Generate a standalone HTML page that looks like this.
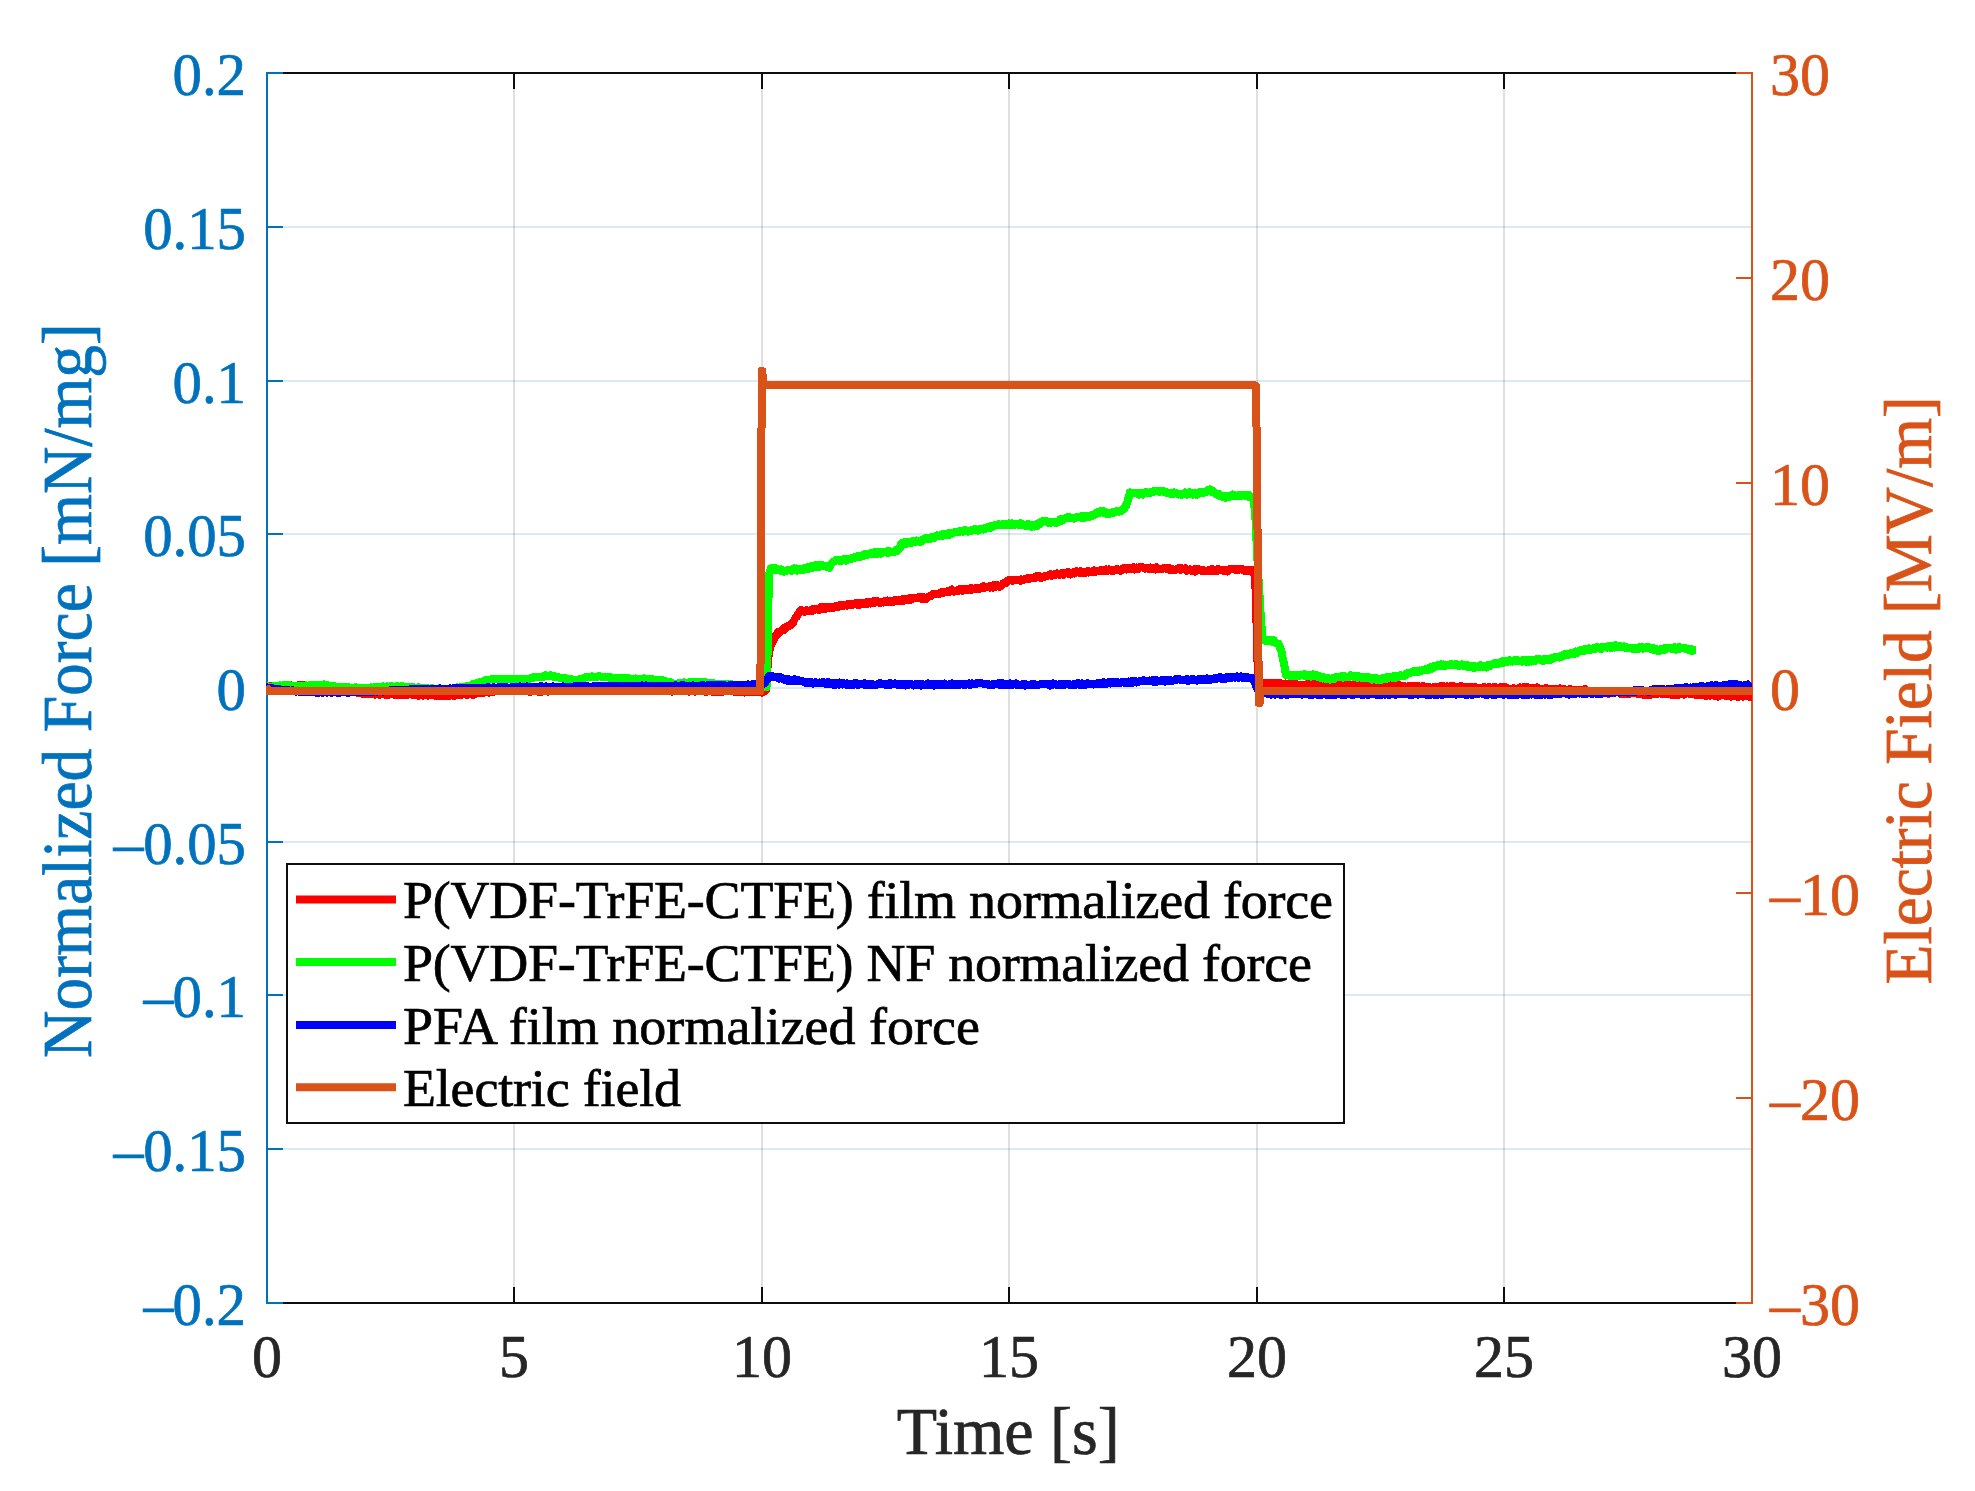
<!DOCTYPE html>
<html lang="en">
<head>
<meta charset="utf-8">
<title>Normalized force and electric field versus time</title>
<style>
html,body{margin:0;padding:0;background:#ffffff;}
body{width:1975px;height:1491px;overflow:hidden;font-family:"Liberation Serif","Times New Roman",serif;}
svg{display:block;}
</style>
</head>
<body>
<svg width="1975" height="1491" viewBox="0 0 1975 1491" font-family="'Liberation Serif', 'Times New Roman', serif">
<rect x="0" y="0" width="1975" height="1491" fill="#ffffff"/>
<g stroke="#262626" stroke-opacity="0.15" stroke-width="2" fill="none">
<line x1="514.0" y1="73" x2="514.0" y2="1303"/>
<line x1="762.0" y1="73" x2="762.0" y2="1303"/>
<line x1="1009.0" y1="73" x2="1009.0" y2="1303"/>
<line x1="1257.0" y1="73" x2="1257.0" y2="1303"/>
<line x1="1504.0" y1="73" x2="1504.0" y2="1303"/>
</g>
<g stroke="#0072BD" stroke-opacity="0.15" stroke-width="2" fill="none">
<line x1="267" y1="227.00" x2="1752" y2="227.00"/>
<line x1="267" y1="381.00" x2="1752" y2="381.00"/>
<line x1="267" y1="534.00" x2="1752" y2="534.00"/>
<line x1="267" y1="688.00" x2="1752" y2="688.00"/>
<line x1="267" y1="842.00" x2="1752" y2="842.00"/>
<line x1="267" y1="995.00" x2="1752" y2="995.00"/>
<line x1="267" y1="1149.00" x2="1752" y2="1149.00"/>
</g>
<g stroke="#0d0d0d" stroke-width="2" fill="none">
<line x1="267" y1="73" x2="1752" y2="73"/>
<line x1="267" y1="1303" x2="1752" y2="1303"/>
<line x1="514.0" y1="73" x2="514.0" y2="89"/>
<line x1="514.0" y1="1303" x2="514.0" y2="1287"/>
<line x1="762.0" y1="73" x2="762.0" y2="89"/>
<line x1="762.0" y1="1303" x2="762.0" y2="1287"/>
<line x1="1009.0" y1="73" x2="1009.0" y2="89"/>
<line x1="1009.0" y1="1303" x2="1009.0" y2="1287"/>
<line x1="1257.0" y1="73" x2="1257.0" y2="89"/>
<line x1="1257.0" y1="1303" x2="1257.0" y2="1287"/>
<line x1="1504.0" y1="73" x2="1504.0" y2="89"/>
<line x1="1504.0" y1="1303" x2="1504.0" y2="1287"/>
</g>
<g stroke="#0072BD" stroke-width="2" fill="none">
<line x1="267" y1="72" x2="267" y2="1304"/>
<line x1="266" y1="73.00" x2="283" y2="73.00"/>
<line x1="266" y1="227.00" x2="283" y2="227.00"/>
<line x1="266" y1="381.00" x2="283" y2="381.00"/>
<line x1="266" y1="534.00" x2="283" y2="534.00"/>
<line x1="266" y1="688.00" x2="283" y2="688.00"/>
<line x1="266" y1="842.00" x2="283" y2="842.00"/>
<line x1="266" y1="995.00" x2="283" y2="995.00"/>
<line x1="266" y1="1149.00" x2="283" y2="1149.00"/>
<line x1="266" y1="1303.00" x2="283" y2="1303.00"/>
</g>
<g stroke="#D95319" stroke-width="2" fill="none">
<line x1="1752" y1="72" x2="1752" y2="1304"/>
<line x1="1753" y1="73.00" x2="1736" y2="73.00"/>
<line x1="1753" y1="278.00" x2="1736" y2="278.00"/>
<line x1="1753" y1="483.00" x2="1736" y2="483.00"/>
<line x1="1753" y1="688.00" x2="1736" y2="688.00"/>
<line x1="1753" y1="893.00" x2="1736" y2="893.00"/>
<line x1="1753" y1="1098.00" x2="1736" y2="1098.00"/>
<line x1="1753" y1="1303.00" x2="1736" y2="1303.00"/>
</g>
<clipPath id="pc"><rect x="266" y="73" width="1486" height="1230"/></clipPath>
<g fill="none" stroke-width="8" stroke-linejoin="round" stroke-linecap="butt" clip-path="url(#pc)" shape-rendering="crispEdges">
<path stroke="#ff0000" d="M265.0,689.1 L266.0,688.1 L267.0,687.6 L268.0,687.6 L269.0,686.9 L270.0,686.5 L271.0,685.9 L272.0,685.7 L273.0,685.9 L274.0,685.5 L275.0,686.1 L276.0,685.5 L277.0,685.6 L278.0,686.2 L279.0,686.1 L280.0,686.0 L281.0,685.6 L282.0,685.7 L283.0,685.8 L284.0,686.0 L285.0,686.1 L286.0,686.1 L287.0,685.9 L288.0,686.5 L289.0,686.6 L290.0,685.5 L291.0,685.4 L292.0,685.9 L293.0,686.4 L294.0,686.2 L295.0,686.4 L296.0,686.2 L297.0,686.3 L298.0,686.4 L299.0,685.2 L300.0,686.0 L301.0,686.0 L302.0,685.1 L303.0,684.8 L304.0,685.5 L305.0,685.1 L306.0,686.0 L307.0,685.7 L308.0,686.3 L309.0,686.1 L310.0,686.5 L311.0,686.1 L312.0,686.2 L313.0,686.8 L314.0,686.2 L315.0,686.5 L316.0,687.0 L317.0,686.5 L318.0,687.1 L319.0,687.7 L320.0,687.7 L321.0,687.7 L322.0,687.2 L323.0,688.4 L324.0,688.3 L325.0,687.6 L326.0,688.5 L327.0,688.2 L328.0,688.3 L329.0,688.3 L330.0,688.6 L331.0,688.7 L332.0,689.8 L333.0,689.1 L334.0,689.2 L335.0,689.8 L336.0,690.1 L337.0,689.1 L338.0,689.2 L339.0,690.1 L340.0,689.5 L341.0,690.3 L342.0,690.0 L343.0,690.4 L344.0,691.0 L345.0,690.4 L346.0,690.4 L347.0,690.8 L348.0,691.3 L349.0,691.3 L350.0,691.6 L351.0,691.6 L352.0,691.4 L353.0,691.2 L354.0,691.1 L355.0,691.6 L356.0,692.2 L357.0,692.8 L358.0,692.9 L359.0,692.3 L360.0,692.4 L361.0,693.1 L362.0,693.6 L363.0,693.5 L364.0,693.7 L365.0,694.1 L366.0,694.1 L367.0,693.4 L368.0,693.9 L369.0,694.0 L370.0,693.6 L371.0,693.8 L372.0,693.4 L373.0,694.3 L374.0,694.2 L375.0,694.6 L376.0,694.4 L377.0,693.7 L378.0,693.7 L379.0,694.4 L380.0,694.8 L381.0,694.4 L382.0,693.9 L383.0,693.9 L384.0,694.4 L385.0,693.9 L386.0,694.9 L387.0,694.5 L388.0,694.9 L389.0,694.3 L390.0,694.5 L391.0,694.4 L392.0,694.1 L393.0,694.3 L394.0,694.7 L395.0,694.5 L396.0,694.6 L397.0,693.9 L398.0,694.4 L399.0,694.8 L400.0,694.6 L401.0,694.9 L402.0,694.4 L403.0,694.4 L404.0,694.6 L405.0,694.3 L406.0,694.9 L407.0,694.9 L408.0,694.0 L409.0,694.5 L410.0,693.7 L411.0,693.9 L412.0,694.2 L413.0,695.1 L414.0,695.3 L415.0,695.2 L416.0,694.8 L417.0,695.1 L418.0,695.6 L419.0,695.6 L420.0,695.5 L421.0,695.2 L422.0,695.1 L423.0,695.6 L424.0,694.9 L425.0,694.7 L426.0,695.0 L427.0,694.6 L428.0,695.5 L429.0,694.7 L430.0,694.6 L431.0,694.9 L432.0,694.8 L433.0,695.3 L434.0,694.9 L435.0,695.4 L436.0,695.8 L437.0,695.8 L438.0,695.5 L439.0,696.0 L440.0,696.2 L441.0,695.6 L442.0,696.5 L443.0,695.9 L444.0,696.3 L445.0,695.8 L446.0,695.5 L447.0,695.3 L448.0,695.5 L449.0,696.1 L450.0,695.5 L451.0,695.4 L452.0,694.9 L453.0,695.6 L454.0,695.3 L455.0,695.7 L456.0,694.8 L457.0,695.2 L458.0,695.3 L459.0,694.9 L460.0,695.3 L461.0,694.8 L462.0,694.8 L463.0,694.0 L464.0,694.0 L465.0,694.3 L466.0,694.1 L467.0,695.0 L468.0,694.7 L469.0,694.1 L470.0,694.3 L471.0,694.0 L472.0,694.7 L473.0,693.9 L474.0,694.5 L475.0,693.3 L476.0,693.7 L477.0,693.2 L478.0,693.4 L479.0,692.9 L480.0,693.1 L481.0,692.9 L482.0,692.7 L483.0,693.0 L484.0,692.7 L485.0,692.3 L486.0,691.9 L487.0,692.3 L488.0,692.2 L489.0,692.6 L490.0,692.3 L491.0,691.6 L492.0,691.7 L493.0,691.7 L494.0,691.6 L495.0,691.2 L496.0,691.1 L497.0,690.4 L498.0,690.8 L499.0,691.2 L500.0,691.4 L501.0,691.1 L502.0,690.5 L503.0,691.1 L504.0,691.0 L505.0,691.2 L506.0,690.6 L507.0,691.3 L508.0,690.8 L509.0,691.1 L510.0,690.6 L511.0,690.9 L512.0,690.8 L513.0,690.3 L514.0,690.4 L515.0,690.8 L516.0,690.1 L517.0,691.0 L518.0,691.1 L519.0,690.9 L520.0,690.7 L521.0,691.2 L522.0,690.4 L523.0,690.5 L524.0,691.0 L525.0,691.1 L526.0,690.5 L527.0,690.6 L528.0,691.2 L529.0,691.7 L530.0,690.8 L531.0,691.7 L532.0,691.3 L533.0,691.0 L534.0,690.7 L535.0,691.3 L536.0,691.0 L537.0,691.0 L538.0,691.6 L539.0,691.7 L540.0,690.8 L541.0,691.8 L542.0,690.9 L543.0,691.5 L544.0,691.1 L545.0,690.6 L546.0,690.4 L547.0,690.8 L548.0,691.6 L549.0,691.1 L550.0,690.7 L551.0,691.2 L552.0,691.3 L553.0,691.2 L554.0,690.5 L555.0,690.7 L556.0,690.4 L557.0,690.2 L558.0,689.8 L559.0,690.3 L560.0,690.2 L561.0,690.8 L562.0,690.2 L563.0,690.5 L564.0,690.2 L565.0,690.1 L566.0,690.9 L567.0,690.8 L568.0,690.9 L569.0,690.0 L570.0,689.9 L571.0,690.1 L572.0,690.1 L573.0,690.5 L574.0,690.0 L575.0,689.9 L576.0,690.0 L577.0,690.8 L578.0,689.9 L579.0,690.6 L580.0,689.9 L581.0,690.1 L582.0,690.3 L583.0,691.0 L584.0,689.9 L585.0,691.1 L586.0,690.6 L587.0,690.5 L588.0,691.0 L589.0,691.2 L590.0,690.1 L591.0,690.5 L592.0,690.7 L593.0,690.8 L594.0,690.8 L595.0,689.8 L596.0,690.7 L597.0,690.5 L598.0,690.4 L599.0,690.8 L600.0,690.9 L601.0,690.7 L602.0,690.7 L603.0,690.6 L604.0,690.0 L605.0,691.0 L606.0,690.7 L607.0,690.3 L608.0,690.2 L609.0,690.4 L610.0,690.0 L611.0,690.2 L612.0,690.0 L613.0,689.8 L614.0,689.4 L615.0,690.1 L616.0,689.7 L617.0,690.1 L618.0,689.6 L619.0,690.5 L620.0,689.8 L621.0,689.9 L622.0,690.9 L623.0,690.0 L624.0,690.2 L625.0,689.7 L626.0,689.7 L627.0,689.6 L628.0,689.8 L629.0,690.9 L630.0,690.9 L631.0,690.9 L632.0,689.8 L633.0,690.4 L634.0,689.9 L635.0,690.2 L636.0,690.1 L637.0,690.0 L638.0,690.1 L639.0,690.9 L640.0,690.0 L641.0,690.6 L642.0,690.4 L643.0,690.4 L644.0,691.0 L645.0,691.0 L646.0,690.2 L647.0,690.8 L648.0,690.1 L649.0,691.1 L650.0,690.3 L651.0,690.4 L652.0,690.1 L653.0,690.3 L654.0,690.7 L655.0,689.9 L656.0,690.8 L657.0,691.2 L658.0,690.1 L659.0,691.1 L660.0,691.3 L661.0,690.6 L662.0,690.7 L663.0,691.1 L664.0,691.0 L665.0,690.9 L666.0,690.4 L667.0,690.9 L668.0,690.2 L669.0,690.5 L670.0,690.5 L671.0,690.9 L672.0,691.6 L673.0,691.0 L674.0,690.5 L675.0,691.3 L676.0,691.0 L677.0,691.2 L678.0,691.3 L679.0,691.3 L680.0,690.4 L681.0,691.0 L682.0,690.7 L683.0,690.5 L684.0,690.5 L685.0,691.0 L686.0,690.9 L687.0,690.8 L688.0,690.7 L689.0,691.6 L690.0,690.5 L691.0,691.1 L692.0,691.2 L693.0,690.5 L694.0,690.6 L695.0,691.6 L696.0,690.9 L697.0,690.9 L698.0,691.3 L699.0,691.2 L700.0,691.2 L701.0,690.7 L702.0,690.9 L703.0,691.4 L704.0,691.1 L705.0,691.7 L706.0,691.1 L707.0,691.7 L708.0,691.5 L709.0,691.4 L710.0,691.5 L711.0,691.1 L712.0,691.6 L713.0,691.1 L714.0,691.9 L715.0,691.2 L716.0,691.4 L717.0,691.6 L718.0,691.1 L719.0,690.9 L720.0,691.8 L721.0,691.1 L722.0,691.8 L723.0,690.8 L724.0,691.4 L725.0,690.8 L726.0,691.2 L727.0,690.7 L728.0,691.1 L729.0,690.7 L730.0,691.1 L731.0,691.0 L732.0,690.7 L733.0,691.5 L734.0,691.0 L735.0,692.1 L736.0,691.8 L737.0,692.0 L738.0,691.4 L739.0,691.9 L740.0,691.4 L741.0,691.8 L742.0,691.8 L743.0,692.3 L744.0,692.5 L745.0,692.5 L746.0,691.7 L747.0,692.4 L748.0,692.2 L749.0,692.0 L750.0,692.1 L751.0,691.8 L752.0,691.9 L753.0,692.1 L754.0,691.8 L755.0,692.1 L756.0,691.5 L757.0,691.4 L758.0,691.8 L759.0,692.0 L760.0,691.6 L761.0,692.3 L762.0,692.6 L763.0,691.4 L764.0,690.7 L765.0,691.3 L766.0,690.0 L768.0,660.0 L770.0,647.1 L771.0,643.7 L772.0,643.4 L773.1,641.2 L774.1,638.1 L775.1,636.5 L776.2,635.1 L777.2,634.9 L778.2,631.9 L779.2,631.8 L780.2,632.1 L781.2,630.6 L782.1,629.7 L783.1,628.8 L784.1,629.9 L785.1,627.4 L786.1,627.7 L787.1,626.9 L788.0,625.9 L789.0,625.8 L790.0,625.6 L791.0,624.9 L792.0,623.3 L793.0,623.1 L794.0,620.5 L795.0,618.5 L796.0,616.7 L797.0,616.7 L798.0,613.9 L798.9,612.9 L799.9,611.3 L801.0,610.0 L802.0,610.3 L803.1,611.0 L804.2,611.8 L805.2,611.4 L806.3,610.2 L807.3,610.4 L808.3,610.7 L809.3,611.1 L810.3,610.3 L811.2,609.7 L812.2,611.1 L813.2,609.0 L814.2,610.1 L815.2,609.6 L816.2,608.8 L817.2,609.5 L818.2,608.8 L819.2,609.7 L820.1,608.9 L821.1,607.2 L822.1,608.5 L823.1,607.0 L824.1,608.5 L825.1,608.9 L826.1,607.0 L827.1,607.7 L828.1,608.1 L829.1,607.2 L830.1,606.9 L831.1,608.2 L832.1,608.0 L833.1,608.2 L834.1,607.3 L835.1,606.5 L836.0,605.8 L837.0,606.2 L838.0,607.0 L839.0,606.6 L840.0,605.1 L841.0,606.0 L842.0,605.3 L843.0,606.2 L844.0,604.8 L845.0,604.8 L846.0,604.6 L847.0,605.6 L848.0,604.1 L849.0,604.0 L849.9,605.3 L850.9,604.5 L851.9,605.0 L852.9,604.0 L853.9,604.4 L854.8,603.5 L855.8,603.1 L856.8,602.7 L857.8,604.8 L858.8,602.9 L859.8,604.7 L860.7,602.6 L861.7,602.6 L862.7,603.8 L863.7,603.6 L864.7,602.9 L865.6,604.0 L866.6,602.4 L867.6,603.6 L868.6,602.3 L869.6,602.1 L870.5,603.5 L871.5,603.3 L872.5,602.6 L873.5,601.5 L874.5,602.6 L875.4,601.3 L876.4,600.8 L877.4,601.4 L878.4,601.5 L879.4,601.7 L880.3,602.9 L881.3,602.2 L882.3,601.9 L883.3,602.5 L884.3,601.6 L885.2,601.1 L886.2,602.3 L887.2,600.6 L888.2,601.9 L889.2,602.2 L890.2,601.3 L891.1,601.8 L892.1,600.7 L893.1,601.8 L894.1,600.4 L895.1,600.6 L896.0,600.0 L897.0,600.8 L898.0,601.1 L899.0,601.3 L900.0,600.1 L901.0,599.8 L902.0,600.9 L903.0,598.8 L904.0,600.7 L905.0,599.8 L906.0,598.8 L907.0,599.5 L908.0,599.7 L909.0,599.4 L910.0,598.1 L911.0,599.8 L912.0,598.0 L913.0,598.3 L914.0,597.7 L915.0,598.1 L916.0,597.7 L917.0,597.8 L918.0,597.3 L919.0,597.0 L920.0,597.8 L921.0,597.2 L922.0,599.0 L923.0,598.5 L924.0,597.5 L925.0,598.3 L926.0,599.3 L927.0,597.9 L927.9,596.7 L928.9,596.5 L929.9,596.2 L930.8,596.5 L931.8,595.4 L932.7,594.2 L933.7,593.7 L934.7,594.4 L935.7,594.0 L936.7,594.1 L937.7,593.7 L938.7,593.9 L939.7,593.8 L940.7,592.9 L941.7,591.8 L942.7,592.2 L943.7,592.6 L944.7,592.5 L945.7,591.6 L946.7,591.4 L947.7,591.7 L948.7,592.0 L949.7,591.7 L950.7,591.0 L951.7,589.5 L952.7,590.6 L953.7,591.6 L954.7,590.8 L955.7,590.9 L956.7,591.2 L957.7,591.0 L958.7,590.2 L959.6,589.0 L960.6,590.3 L961.6,588.7 L962.6,590.7 L963.6,589.1 L964.5,589.3 L965.5,589.5 L966.5,590.0 L967.5,588.7 L968.5,589.9 L969.5,588.8 L970.4,589.9 L971.4,588.1 L972.4,589.5 L973.4,588.8 L974.4,588.6 L975.3,588.2 L976.3,589.2 L977.3,588.8 L978.3,587.9 L979.3,588.9 L980.2,587.7 L981.2,587.7 L982.2,587.2 L983.2,586.4 L984.2,588.0 L985.2,586.9 L986.2,587.3 L987.1,587.3 L988.1,586.7 L989.1,586.3 L990.1,587.6 L991.1,586.3 L992.1,587.4 L993.1,585.5 L994.1,587.4 L995.1,585.3 L996.0,585.1 L997.0,585.5 L998.0,585.3 L999.0,585.5 L1000.0,586.7 L1001.0,585.4 L1002.0,585.2 L1003.1,583.4 L1004.1,583.6 L1005.1,582.4 L1006.1,582.9 L1007.1,581.0 L1008.2,580.4 L1009.2,580.6 L1010.2,579.6 L1011.2,580.2 L1012.2,580.9 L1013.2,580.4 L1014.2,580.5 L1015.2,579.8 L1016.2,579.5 L1017.2,580.0 L1018.2,579.9 L1019.2,580.2 L1020.2,580.7 L1021.2,579.4 L1022.2,579.7 L1023.2,580.1 L1024.2,579.7 L1025.2,578.8 L1026.2,579.3 L1027.2,578.2 L1028.2,578.5 L1029.2,579.0 L1030.2,577.9 L1031.2,578.4 L1032.2,577.6 L1033.2,577.8 L1034.2,578.1 L1035.2,576.9 L1036.2,577.6 L1037.2,576.1 L1038.2,577.3 L1039.2,576.0 L1040.2,576.4 L1041.2,577.8 L1042.2,577.0 L1043.2,577.4 L1044.2,576.4 L1045.3,576.3 L1046.3,575.9 L1047.3,576.0 L1048.3,575.4 L1049.3,574.8 L1050.3,574.3 L1051.3,575.7 L1052.3,574.6 L1053.3,575.1 L1054.3,574.1 L1055.3,574.2 L1056.3,574.6 L1057.3,573.4 L1058.4,574.1 L1059.4,574.8 L1060.4,574.2 L1061.4,573.2 L1062.4,573.8 L1063.4,574.6 L1064.4,573.2 L1065.4,573.5 L1066.4,572.6 L1067.4,572.1 L1068.4,573.6 L1069.4,572.6 L1070.5,574.5 L1071.5,574.0 L1072.5,572.8 L1073.5,572.2 L1074.5,573.5 L1075.5,573.1 L1076.5,571.2 L1077.5,571.8 L1078.5,572.6 L1079.5,572.2 L1080.6,571.2 L1081.6,573.2 L1082.6,571.5 L1083.6,571.5 L1084.6,573.2 L1085.7,571.9 L1086.7,572.3 L1087.7,571.0 L1088.7,572.5 L1089.7,571.9 L1090.7,571.6 L1091.8,572.4 L1092.8,572.2 L1093.8,570.4 L1094.8,572.3 L1095.8,570.8 L1096.8,571.0 L1097.8,571.4 L1098.9,570.6 L1099.9,570.3 L1100.9,571.2 L1101.9,571.1 L1102.9,569.7 L1104.0,570.3 L1105.0,570.6 L1106.0,569.6 L1107.0,570.9 L1108.0,570.5 L1109.0,569.4 L1110.0,570.5 L1111.0,570.7 L1112.0,569.9 L1112.9,570.5 L1113.9,570.8 L1114.9,569.6 L1115.9,569.7 L1116.9,568.9 L1117.9,570.2 L1118.9,569.7 L1119.9,570.6 L1120.9,569.5 L1121.9,570.4 L1122.8,569.3 L1123.8,568.2 L1124.8,568.2 L1125.8,568.7 L1126.8,569.4 L1127.8,568.1 L1128.8,568.0 L1129.8,568.2 L1130.8,569.2 L1131.8,569.0 L1132.7,568.3 L1133.7,567.4 L1134.7,569.5 L1135.7,568.6 L1136.7,567.6 L1137.7,569.1 L1138.7,568.5 L1139.7,567.6 L1140.7,566.7 L1141.7,566.9 L1142.7,567.1 L1143.7,567.6 L1144.6,568.6 L1145.6,568.0 L1146.6,567.6 L1147.6,567.8 L1148.6,568.8 L1149.6,568.7 L1150.6,567.7 L1151.6,568.9 L1152.6,569.1 L1153.6,567.6 L1154.6,567.9 L1155.6,569.4 L1156.6,567.4 L1157.6,568.8 L1158.5,569.3 L1159.5,568.9 L1160.5,569.4 L1161.5,568.6 L1162.5,568.9 L1163.5,568.0 L1164.5,567.8 L1165.5,568.0 L1166.5,567.8 L1167.5,569.1 L1168.5,567.9 L1169.5,568.5 L1170.5,570.1 L1171.5,568.6 L1172.4,568.9 L1173.4,570.1 L1174.4,569.9 L1175.4,570.0 L1176.4,569.3 L1177.4,568.6 L1178.4,568.1 L1179.4,568.3 L1180.4,569.7 L1181.4,568.2 L1182.3,568.7 L1183.3,568.7 L1184.3,569.3 L1185.3,568.3 L1186.3,570.7 L1187.3,570.5 L1188.2,569.6 L1189.2,569.5 L1190.2,569.4 L1191.2,570.8 L1192.2,571.2 L1193.2,571.3 L1194.2,569.5 L1195.1,571.5 L1196.1,569.2 L1197.1,569.6 L1198.1,569.2 L1199.1,569.8 L1200.1,570.2 L1201.0,570.7 L1202.0,569.7 L1203.0,571.2 L1204.0,570.4 L1205.0,571.3 L1206.0,571.0 L1207.0,571.1 L1208.1,571.4 L1209.1,570.2 L1210.1,569.6 L1211.1,570.9 L1212.1,569.2 L1213.1,570.9 L1214.2,570.8 L1215.2,570.8 L1216.2,569.8 L1217.2,569.3 L1218.2,570.6 L1219.2,569.4 L1220.3,570.0 L1221.3,569.9 L1222.3,570.0 L1223.3,570.8 L1224.3,571.0 L1225.3,569.7 L1226.4,570.7 L1227.4,571.4 L1228.4,570.3 L1229.4,570.0 L1230.4,568.8 L1231.4,569.3 L1232.4,569.1 L1233.4,568.9 L1234.4,569.4 L1235.4,569.2 L1236.4,570.3 L1237.4,570.3 L1238.4,569.0 L1239.4,569.1 L1240.4,569.1 L1241.4,569.3 L1242.4,569.0 L1243.4,570.1 L1244.4,570.8 L1245.4,570.8 L1246.4,569.8 L1247.4,570.6 L1248.4,570.2 L1249.4,570.4 L1250.4,571.4 L1251.4,570.0 L1252.4,570.1 L1253.3,570.7 L1254.1,571.4 L1255.0,571.0 L1257.0,640.0 L1258.0,682.8 L1259.0,683.5 L1260.0,683.5 L1261.0,683.8 L1262.0,684.0 L1263.0,682.9 L1264.0,682.7 L1265.0,683.2 L1266.0,685.3 L1267.0,684.6 L1268.0,685.3 L1269.0,683.0 L1270.0,684.4 L1271.0,683.4 L1272.0,683.8 L1273.0,683.0 L1274.0,684.4 L1275.0,683.1 L1276.0,682.7 L1277.0,684.1 L1278.0,683.7 L1279.0,684.1 L1280.0,683.2 L1281.0,683.3 L1282.0,683.6 L1283.0,683.7 L1284.0,685.3 L1285.0,684.9 L1286.0,683.6 L1287.0,684.6 L1288.0,684.2 L1289.0,684.0 L1290.0,683.4 L1291.0,684.2 L1292.0,683.0 L1293.0,683.9 L1294.0,684.5 L1295.0,684.2 L1296.0,683.7 L1297.0,685.3 L1298.0,685.5 L1299.0,684.6 L1300.0,684.7 L1301.0,685.4 L1302.0,685.9 L1303.0,685.5 L1304.0,684.6 L1305.0,685.4 L1306.0,685.4 L1307.0,684.4 L1308.0,685.0 L1309.0,684.0 L1310.0,685.2 L1311.0,683.2 L1312.0,684.7 L1313.0,684.4 L1314.0,683.9 L1315.0,683.7 L1316.0,684.3 L1317.0,683.5 L1318.0,684.2 L1319.0,683.5 L1320.0,683.6 L1321.0,683.8 L1322.0,684.4 L1323.0,683.9 L1324.0,683.5 L1325.0,684.7 L1326.0,685.4 L1327.0,684.1 L1328.0,685.8 L1329.0,683.9 L1330.0,683.1 L1331.0,683.5 L1332.0,685.3 L1333.0,685.0 L1334.0,683.8 L1335.0,683.9 L1336.0,683.6 L1337.0,684.1 L1338.0,684.2 L1339.0,684.5 L1340.0,684.5 L1341.0,685.0 L1342.0,685.6 L1343.0,684.5 L1344.0,685.4 L1345.0,684.3 L1346.0,683.6 L1347.0,684.0 L1348.0,685.0 L1349.0,684.1 L1350.0,686.0 L1351.0,686.2 L1352.0,684.6 L1353.0,684.7 L1354.0,684.3 L1355.0,684.4 L1356.0,684.6 L1357.0,685.9 L1358.0,684.7 L1359.0,685.6 L1360.0,683.9 L1361.0,684.9 L1362.0,685.9 L1363.0,684.7 L1364.0,684.6 L1365.0,685.6 L1366.0,684.8 L1367.0,684.5 L1368.0,685.5 L1369.0,684.3 L1370.0,685.4 L1371.0,686.2 L1372.0,684.3 L1373.0,684.1 L1374.0,685.8 L1375.0,684.9 L1376.0,684.5 L1377.0,686.5 L1378.0,685.4 L1379.0,685.3 L1380.0,686.2 L1381.0,687.2 L1382.0,685.4 L1383.0,685.1 L1384.0,686.0 L1385.0,687.1 L1386.0,686.5 L1387.0,687.2 L1388.0,685.1 L1389.0,685.5 L1390.0,685.4 L1391.0,686.6 L1392.0,684.9 L1393.0,685.0 L1394.0,686.7 L1395.0,685.5 L1396.0,686.0 L1397.0,685.7 L1398.0,685.2 L1399.0,686.8 L1400.0,685.4 L1401.0,685.8 L1402.0,686.7 L1403.0,686.1 L1404.0,685.8 L1405.0,686.4 L1406.0,686.8 L1407.0,687.6 L1408.0,686.5 L1409.0,687.2 L1410.0,685.7 L1411.0,687.8 L1412.0,686.6 L1413.0,685.9 L1414.0,687.6 L1415.0,686.8 L1416.0,686.8 L1417.0,686.1 L1418.0,686.8 L1419.0,686.9 L1420.0,686.5 L1421.0,687.5 L1422.0,686.7 L1423.0,686.0 L1424.0,686.7 L1425.0,687.8 L1426.0,687.3 L1427.0,687.7 L1428.0,687.2 L1429.0,687.0 L1430.0,687.3 L1431.0,687.7 L1432.0,688.9 L1433.0,688.6 L1434.0,686.7 L1435.0,688.2 L1436.0,687.4 L1437.0,687.8 L1438.0,688.1 L1439.0,686.8 L1440.0,686.3 L1441.0,687.9 L1442.0,686.0 L1443.0,685.7 L1444.0,686.5 L1445.0,686.8 L1446.0,687.6 L1447.0,686.6 L1448.0,688.0 L1449.0,686.7 L1450.0,686.7 L1451.0,686.1 L1452.0,686.9 L1453.0,686.1 L1454.0,686.3 L1455.0,686.5 L1456.0,686.8 L1457.0,688.6 L1458.0,688.1 L1459.0,687.3 L1460.0,687.0 L1461.0,686.2 L1462.0,688.3 L1463.0,687.8 L1464.0,687.6 L1465.0,686.9 L1466.0,687.2 L1467.0,687.5 L1468.0,688.2 L1469.0,686.6 L1470.0,687.0 L1471.0,687.3 L1472.0,687.6 L1473.0,686.9 L1474.0,687.5 L1475.0,687.1 L1476.0,688.2 L1477.0,688.2 L1478.0,687.8 L1479.0,687.8 L1480.0,687.6 L1481.0,688.8 L1482.0,687.7 L1483.0,689.0 L1484.0,687.1 L1485.0,688.1 L1486.0,688.2 L1487.0,688.2 L1488.0,687.4 L1489.0,687.2 L1490.0,687.3 L1491.0,688.5 L1492.0,687.5 L1493.0,687.9 L1494.0,686.9 L1495.0,686.9 L1496.0,687.4 L1497.0,688.7 L1498.0,687.6 L1499.0,688.3 L1500.0,688.3 L1501.0,687.1 L1502.0,688.7 L1503.0,689.2 L1504.0,687.6 L1505.0,687.2 L1506.0,689.1 L1507.0,687.9 L1508.0,689.2 L1509.0,689.6 L1510.0,689.5 L1511.0,689.5 L1512.0,689.5 L1513.0,688.4 L1514.0,688.3 L1515.0,689.4 L1516.0,688.8 L1517.0,688.9 L1518.0,689.6 L1519.0,689.3 L1520.0,687.4 L1521.0,687.7 L1522.0,688.5 L1523.0,687.4 L1524.0,686.7 L1525.0,686.9 L1526.0,688.4 L1527.0,686.9 L1528.0,688.9 L1529.0,687.8 L1530.0,688.0 L1531.0,688.2 L1532.0,688.6 L1533.0,689.2 L1534.0,688.1 L1535.0,688.4 L1536.0,687.6 L1537.0,687.4 L1538.0,689.2 L1539.0,689.4 L1540.0,689.9 L1541.0,688.7 L1542.0,688.8 L1543.0,688.6 L1544.0,689.4 L1545.0,688.6 L1546.0,688.2 L1547.0,689.3 L1548.0,689.0 L1549.0,688.5 L1550.0,688.6 L1551.0,689.2 L1552.0,688.9 L1553.0,688.7 L1554.0,689.8 L1555.0,689.1 L1556.0,688.7 L1557.0,688.6 L1558.0,689.3 L1559.0,689.4 L1560.0,688.5 L1561.0,689.7 L1562.0,689.3 L1563.0,688.6 L1564.0,689.3 L1565.0,689.9 L1566.0,690.5 L1567.0,689.9 L1568.0,689.6 L1569.0,689.3 L1570.0,690.9 L1571.0,689.4 L1572.0,689.6 L1573.0,689.9 L1574.0,689.8 L1575.0,690.0 L1576.0,691.3 L1577.0,690.5 L1578.0,691.4 L1579.0,691.1 L1580.0,690.2 L1581.0,691.5 L1582.0,689.9 L1583.0,690.2 L1584.0,691.0 L1585.0,689.1 L1586.0,690.3 L1587.0,691.0 L1588.0,691.3 L1589.0,690.8 L1590.0,692.2 L1591.0,691.9 L1592.0,690.9 L1593.0,692.5 L1594.0,691.5 L1595.0,692.6 L1596.0,693.0 L1597.0,692.3 L1598.0,693.1 L1599.0,690.8 L1600.0,691.9 L1601.0,692.9 L1602.0,691.5 L1603.0,693.0 L1604.0,692.2 L1605.0,691.5 L1606.0,693.3 L1607.0,692.7 L1608.0,692.1 L1609.0,693.7 L1610.0,692.1 L1611.0,692.5 L1612.0,692.3 L1613.0,692.4 L1614.0,692.6 L1615.0,692.0 L1616.0,691.4 L1617.0,691.9 L1618.0,692.2 L1619.0,692.6 L1620.0,692.7 L1621.0,694.0 L1622.0,693.2 L1623.0,693.7 L1624.0,693.7 L1625.0,693.4 L1626.0,693.7 L1627.0,694.0 L1628.0,693.0 L1629.0,693.9 L1630.0,693.6 L1631.0,692.8 L1632.0,692.0 L1633.0,692.6 L1634.0,692.7 L1635.0,693.1 L1636.0,693.1 L1637.0,692.8 L1638.0,693.9 L1639.0,693.8 L1640.0,693.0 L1641.0,692.7 L1642.0,694.0 L1643.0,693.8 L1644.0,694.8 L1645.0,693.9 L1646.0,694.0 L1647.0,695.0 L1648.0,693.5 L1649.0,694.7 L1650.0,695.0 L1651.0,693.7 L1652.0,693.4 L1653.0,693.6 L1654.0,693.8 L1655.0,693.2 L1656.0,693.8 L1657.0,692.7 L1658.0,693.6 L1659.0,692.0 L1660.0,692.9 L1661.0,692.1 L1662.0,694.0 L1663.0,693.9 L1664.0,693.4 L1665.0,694.3 L1666.0,694.0 L1667.0,693.2 L1668.0,692.8 L1669.0,694.2 L1670.0,694.1 L1671.0,693.6 L1672.0,695.0 L1673.0,694.2 L1674.0,694.4 L1675.0,694.7 L1676.0,693.4 L1677.0,693.4 L1678.0,694.9 L1679.0,694.0 L1680.0,694.0 L1681.0,694.3 L1682.0,694.4 L1683.0,693.3 L1684.0,694.4 L1685.0,693.2 L1686.0,693.7 L1687.0,692.9 L1688.0,692.2 L1689.0,692.1 L1690.0,693.7 L1691.0,693.1 L1692.0,694.3 L1693.0,692.9 L1694.0,693.1 L1695.0,694.2 L1696.0,695.1 L1697.0,693.9 L1698.0,694.8 L1699.0,695.4 L1700.0,695.2 L1701.0,694.1 L1702.0,695.2 L1703.0,694.5 L1704.0,694.5 L1705.0,695.6 L1706.0,694.0 L1707.0,695.5 L1708.0,693.8 L1709.0,695.2 L1710.0,695.6 L1711.0,695.2 L1712.0,694.5 L1713.0,695.0 L1714.0,695.7 L1715.0,695.6 L1716.0,694.4 L1717.0,695.8 L1718.0,696.6 L1719.0,695.6 L1720.0,695.5 L1721.0,695.1 L1722.0,694.3 L1723.0,695.5 L1724.0,695.1 L1725.0,695.7 L1726.0,694.7 L1727.0,696.1 L1728.0,696.3 L1729.0,696.5 L1730.0,694.6 L1731.0,696.5 L1732.0,695.1 L1733.0,696.4 L1734.0,696.3 L1735.0,695.0 L1736.0,696.1 L1737.0,696.8 L1738.0,695.4 L1739.0,696.6 L1740.0,695.9 L1741.0,695.2 L1742.0,694.6 L1743.0,696.7 L1744.0,694.6 L1745.0,695.8 L1746.0,695.2 L1747.0,696.4 L1748.0,696.1 L1749.0,695.5 L1750.0,697.0 L1751.0,695.8 L1752.0,695.5"/>
<path stroke="#00ff00" d="M265.0,687.5 L266.0,687.5 L267.0,686.8 L268.0,686.4 L269.0,686.7 L270.0,686.7 L271.0,686.7 L272.0,686.5 L273.0,686.3 L274.0,686.6 L275.0,686.1 L276.0,685.8 L277.0,685.6 L278.0,685.8 L279.0,686.4 L280.0,685.4 L281.0,685.5 L282.0,685.7 L283.0,685.3 L284.0,685.3 L285.0,686.3 L286.0,685.2 L287.0,685.9 L288.0,685.7 L289.0,685.0 L290.0,686.2 L291.0,686.1 L292.0,686.5 L293.0,686.2 L294.0,686.0 L295.0,686.1 L296.0,686.1 L297.0,686.1 L298.0,685.9 L299.0,685.6 L300.0,686.5 L301.0,685.8 L302.0,685.8 L303.0,686.3 L304.0,685.9 L305.0,686.0 L306.0,685.3 L307.0,685.6 L308.0,686.0 L309.0,686.3 L310.0,685.1 L311.0,685.7 L312.0,685.1 L313.0,685.1 L314.0,685.4 L315.0,685.5 L316.0,684.9 L317.0,685.1 L318.0,685.1 L319.0,685.2 L320.0,684.6 L321.0,684.9 L322.0,684.5 L323.0,684.6 L324.0,684.4 L325.0,684.6 L326.0,685.0 L327.0,685.3 L328.0,685.2 L329.0,685.8 L330.0,686.1 L331.0,686.2 L332.0,686.3 L333.0,686.1 L334.0,686.2 L335.0,686.3 L336.0,686.6 L337.0,686.5 L338.0,686.7 L339.0,687.3 L340.0,687.1 L341.0,686.7 L342.0,686.7 L343.0,687.3 L344.0,687.3 L345.0,687.0 L346.0,687.6 L347.0,687.8 L348.0,687.4 L349.0,687.3 L350.0,687.5 L351.0,687.5 L352.0,687.7 L353.0,687.7 L354.0,687.7 L355.0,687.4 L356.0,687.3 L357.0,687.5 L358.0,687.7 L359.0,687.7 L360.0,688.3 L361.0,687.6 L362.0,688.3 L363.0,688.6 L364.0,688.6 L365.0,688.2 L366.0,688.2 L367.0,688.3 L368.0,688.1 L369.0,688.6 L370.0,688.3 L371.0,687.4 L372.0,687.6 L373.0,688.3 L374.0,687.3 L375.0,687.5 L376.0,687.3 L377.0,687.3 L378.0,687.0 L379.0,687.5 L380.0,687.0 L381.0,687.0 L382.0,686.7 L383.0,686.4 L384.0,686.8 L385.0,686.7 L386.0,686.7 L387.0,686.3 L388.0,686.9 L389.0,686.8 L390.0,686.2 L391.0,686.9 L392.0,686.4 L393.0,687.2 L394.0,686.8 L395.0,686.5 L396.0,686.3 L397.0,687.1 L398.0,686.3 L399.0,687.1 L400.0,687.3 L401.0,686.4 L402.0,687.3 L403.0,686.4 L404.0,687.1 L405.0,686.9 L406.0,686.9 L407.0,687.2 L408.0,686.8 L409.0,687.7 L410.0,686.9 L411.0,687.3 L412.0,686.7 L413.0,686.9 L414.0,687.4 L415.0,687.8 L416.0,687.6 L417.0,688.1 L418.0,687.3 L419.0,688.7 L420.0,688.0 L421.0,688.3 L422.0,688.2 L423.0,688.2 L424.0,688.7 L425.0,687.7 L426.0,687.8 L427.0,688.6 L428.0,688.2 L429.0,688.7 L430.0,689.1 L431.0,688.6 L432.0,688.2 L433.0,688.4 L434.0,689.1 L435.0,688.7 L436.0,688.6 L437.0,689.0 L438.0,689.2 L439.0,688.3 L440.0,688.8 L441.0,688.5 L442.0,689.1 L443.0,689.1 L444.0,688.7 L445.0,689.0 L446.0,689.8 L447.0,689.1 L448.0,688.8 L449.0,689.3 L450.0,689.3 L451.0,688.9 L452.0,689.2 L452.9,688.6 L453.9,688.6 L454.9,688.3 L455.9,688.8 L456.9,687.5 L457.8,688.4 L458.8,687.6 L459.8,687.6 L460.8,687.0 L461.7,687.1 L462.7,687.4 L463.7,687.0 L464.6,687.2 L465.6,686.6 L466.6,686.8 L467.6,685.8 L468.6,686.7 L469.5,685.7 L470.5,686.2 L471.5,685.2 L472.4,685.6 L473.4,684.1 L474.3,684.3 L475.3,683.6 L476.2,683.9 L477.2,683.1 L478.2,682.7 L479.1,682.4 L480.1,682.7 L481.0,682.4 L482.0,681.9 L483.0,681.7 L483.9,680.7 L484.9,680.7 L485.8,680.0 L486.8,680.2 L487.8,680.2 L488.7,679.7 L489.7,679.6 L490.6,679.4 L491.6,679.2 L492.6,679.1 L493.7,679.0 L494.7,678.9 L495.7,679.3 L496.8,678.7 L497.8,679.3 L498.8,679.1 L499.8,678.5 L500.9,678.8 L501.9,679.0 L502.9,679.5 L504.0,678.8 L505.0,679.1 L506.0,679.4 L507.0,679.1 L508.0,679.0 L509.0,679.3 L510.0,679.2 L511.0,679.4 L512.0,678.7 L513.0,678.9 L514.0,679.5 L515.0,679.2 L516.0,679.1 L517.0,679.7 L518.0,678.8 L519.0,679.0 L520.0,679.5 L521.0,679.5 L522.0,678.9 L523.0,679.9 L524.0,679.9 L525.0,679.1 L526.0,679.2 L527.0,679.5 L528.0,679.2 L529.0,678.5 L530.0,678.7 L531.0,677.7 L532.0,677.5 L533.0,678.1 L534.0,676.9 L535.0,676.9 L536.0,677.4 L536.9,677.0 L537.9,677.1 L538.9,677.0 L539.9,676.8 L540.8,677.3 L541.8,676.7 L542.8,676.4 L543.8,676.7 L544.7,676.1 L545.7,675.3 L546.7,676.3 L547.7,675.7 L548.6,675.8 L549.6,675.9 L550.6,675.2 L551.7,676.4 L552.7,676.6 L553.7,676.6 L554.8,676.3 L555.8,677.0 L556.8,676.9 L557.9,677.4 L558.9,677.3 L559.9,678.1 L561.0,678.1 L562.0,678.1 L563.0,678.5 L564.0,678.4 L565.0,678.9 L566.0,678.3 L567.0,678.7 L568.0,679.2 L569.0,678.6 L570.0,678.9 L571.0,679.2 L572.0,679.4 L573.0,679.6 L574.0,679.8 L575.0,680.0 L576.0,680.1 L577.0,679.9 L578.0,679.5 L579.0,679.9 L580.0,679.1 L581.0,679.1 L582.0,678.8 L583.0,678.3 L584.0,678.2 L585.0,677.4 L586.0,677.2 L587.0,677.1 L588.0,677.5 L589.0,676.5 L590.0,676.9 L591.0,677.3 L592.0,676.3 L593.0,676.8 L594.0,676.6 L595.0,676.7 L596.0,676.6 L597.0,676.9 L598.0,676.7 L599.0,676.2 L600.0,676.5 L601.0,676.6 L602.0,676.5 L603.0,677.3 L604.0,677.1 L605.0,677.4 L606.0,676.7 L607.0,677.3 L608.0,677.5 L609.0,677.5 L610.0,677.2 L611.0,678.1 L612.0,677.5 L613.0,677.9 L614.0,678.2 L614.9,678.2 L615.9,678.0 L616.9,678.1 L617.9,678.1 L618.8,678.2 L619.8,678.2 L620.8,678.6 L621.8,677.9 L622.7,677.9 L623.7,678.6 L624.7,677.8 L625.7,678.4 L626.6,677.9 L627.6,678.0 L628.6,678.2 L629.6,678.6 L630.6,679.0 L631.7,678.5 L632.7,678.6 L633.7,678.7 L634.8,678.8 L635.8,678.5 L636.8,679.4 L637.8,678.6 L638.9,679.2 L639.9,679.0 L640.9,678.6 L641.9,679.1 L643.0,678.7 L644.0,678.4 L645.0,679.2 L646.0,679.6 L647.0,679.0 L648.0,679.2 L649.0,678.9 L650.0,679.4 L651.0,679.3 L652.0,679.3 L653.0,679.3 L654.0,679.7 L655.0,679.8 L656.0,679.7 L657.0,679.9 L658.0,680.6 L659.0,680.3 L660.0,680.6 L661.0,680.7 L662.0,680.2 L663.0,681.3 L664.0,680.9 L665.0,681.0 L666.0,682.0 L667.0,681.7 L668.0,682.0 L669.0,682.8 L670.0,682.2 L671.0,682.3 L672.0,683.0 L673.0,684.0 L674.0,683.8 L675.0,684.2 L676.0,684.1 L677.0,684.0 L678.0,683.3 L679.0,684.2 L680.0,684.0 L681.0,683.0 L682.0,683.2 L683.0,683.0 L684.0,682.3 L685.0,682.6 L686.0,682.7 L687.0,682.7 L688.0,682.7 L689.0,682.3 L690.0,682.5 L691.0,682.8 L692.0,681.8 L693.0,681.8 L694.0,681.7 L695.0,682.1 L696.0,682.0 L697.0,682.2 L698.0,682.0 L699.0,681.6 L700.0,682.2 L701.0,682.2 L702.0,682.1 L703.0,682.6 L704.0,682.2 L705.0,683.1 L706.0,682.5 L707.0,683.5 L708.0,683.5 L709.0,683.8 L710.0,682.8 L710.9,682.8 L711.9,683.1 L712.9,683.1 L713.9,683.3 L714.8,684.2 L715.8,684.6 L716.8,683.8 L717.8,684.4 L718.7,683.7 L719.7,684.0 L720.7,684.6 L721.7,683.9 L722.7,684.9 L723.7,684.2 L724.8,685.0 L725.8,684.4 L726.8,684.6 L727.8,683.9 L728.8,683.9 L729.8,684.3 L730.8,684.0 L731.8,685.0 L732.9,685.1 L733.9,685.0 L734.9,684.6 L735.9,685.5 L736.9,685.2 L737.9,685.5 L738.9,685.8 L739.9,685.4 L741.0,685.3 L742.0,685.8 L743.0,686.2 L744.0,685.3 L745.0,685.5 L746.0,685.9 L747.0,685.8 L748.0,686.0 L749.0,686.5 L750.0,686.5 L751.0,686.3 L752.0,686.3 L753.0,686.5 L754.0,685.7 L755.0,686.8 L756.0,685.9 L757.0,686.2 L758.0,686.0 L759.0,686.6 L760.0,687.4 L761.0,687.2 L762.0,687.9 L763.1,686.2 L764.2,685.7 L765.4,686.4 L766.5,687.0 L768.0,640.0 L768.8,575.0 L769.7,572.1 L770.6,568.7 L771.7,567.9 L772.7,568.0 L773.8,569.1 L774.8,569.9 L775.9,568.5 L776.9,569.3 L778.0,570.3 L779.0,569.6 L780.0,570.6 L781.0,569.4 L782.0,571.0 L782.9,570.9 L783.9,571.7 L784.9,571.2 L785.9,571.5 L786.9,570.3 L787.9,569.8 L788.9,569.9 L789.9,569.9 L791.0,570.8 L792.0,570.6 L793.0,569.4 L794.0,568.5 L795.0,569.1 L796.0,568.6 L796.9,570.5 L797.9,569.9 L798.9,568.6 L799.8,568.6 L800.8,569.7 L801.8,569.2 L802.7,570.1 L803.7,568.5 L804.7,569.4 L805.8,567.8 L806.8,568.7 L807.9,567.3 L808.9,568.6 L809.9,566.8 L811.0,567.5 L812.0,566.0 L813.0,567.8 L813.9,566.4 L814.9,565.8 L815.8,565.1 L816.8,565.5 L817.8,567.3 L818.7,565.1 L819.7,566.6 L820.6,565.9 L821.6,565.0 L822.6,565.5 L823.5,566.2 L824.5,565.9 L825.4,565.9 L826.4,566.8 L827.3,566.7 L828.2,567.3 L829.2,567.8 L830.1,565.9 L831.1,564.3 L832.0,562.9 L832.9,562.2 L833.8,561.5 L834.7,561.1 L835.6,560.1 L836.6,560.3 L837.6,559.6 L838.7,559.7 L839.7,560.9 L840.7,560.8 L841.8,560.7 L842.8,559.6 L843.8,560.3 L844.8,558.9 L845.9,560.5 L846.9,559.4 L847.9,559.2 L848.9,558.7 L850.0,558.8 L851.0,558.4 L852.0,558.6 L853.0,557.8 L854.0,557.4 L855.0,557.8 L856.0,557.0 L857.0,557.1 L858.0,555.9 L859.0,556.9 L860.0,557.2 L861.0,555.7 L862.0,555.3 L863.0,555.8 L864.1,554.8 L865.1,554.1 L866.2,554.2 L867.2,555.2 L868.3,553.8 L869.4,554.0 L870.4,553.4 L871.5,553.8 L872.5,553.1 L873.5,554.1 L874.4,553.6 L875.4,552.1 L876.3,552.3 L877.3,553.9 L878.2,552.3 L879.2,553.2 L880.2,552.2 L881.1,553.5 L882.1,552.4 L883.0,552.7 L884.0,551.5 L885.0,551.5 L885.9,551.6 L886.9,551.8 L887.8,553.0 L888.8,550.9 L889.8,552.0 L890.7,551.7 L891.7,551.6 L892.6,552.2 L893.6,552.4 L894.5,551.1 L895.5,550.7 L896.4,549.8 L897.2,551.0 L898.1,550.1 L899.0,549.0 L900.0,547.7 L900.9,544.6 L901.9,543.3 L902.9,544.2 L903.9,544.1 L904.9,542.3 L906.0,543.9 L907.0,543.2 L908.0,542.1 L909.0,542.6 L910.0,543.0 L911.0,543.0 L912.1,542.6 L913.1,541.2 L914.2,541.8 L915.2,541.9 L916.3,540.5 L917.4,540.9 L918.4,541.1 L919.4,540.9 L920.3,541.9 L921.3,541.2 L922.2,540.1 L923.2,539.1 L924.2,538.8 L925.1,538.3 L926.1,538.4 L927.0,537.9 L928.0,538.9 L929.0,538.5 L930.0,538.9 L930.9,538.0 L931.9,536.9 L932.9,537.3 L933.9,538.3 L934.9,537.4 L935.9,536.8 L936.8,535.5 L937.8,536.1 L938.8,536.1 L939.8,535.7 L940.8,535.8 L941.9,534.4 L942.9,535.6 L943.9,534.5 L944.9,534.1 L945.9,535.0 L947.0,534.0 L948.0,534.8 L949.0,533.2 L950.0,534.8 L951.0,533.4 L952.1,533.5 L953.1,533.1 L954.1,532.5 L955.1,532.1 L956.1,531.7 L957.2,531.6 L958.2,532.3 L959.2,531.5 L960.2,530.6 L961.2,530.5 L962.1,530.5 L963.1,531.6 L964.1,530.3 L965.1,530.1 L966.1,530.8 L967.1,531.4 L968.0,531.6 L969.0,531.3 L970.0,531.0 L971.0,531.1 L972.0,530.0 L973.0,530.2 L974.1,530.3 L975.1,529.1 L976.1,530.5 L977.1,530.3 L978.1,530.6 L979.2,529.1 L980.2,529.0 L981.2,528.6 L982.2,528.7 L983.2,529.6 L984.2,529.5 L985.1,528.0 L986.1,528.5 L987.1,527.2 L988.1,527.0 L989.1,528.5 L990.0,528.2 L991.0,526.1 L992.0,526.8 L993.0,526.8 L994.1,526.1 L995.1,524.9 L996.2,525.2 L997.2,525.4 L998.3,524.2 L999.4,525.0 L1000.4,525.1 L1001.5,525.0 L1002.5,524.9 L1003.6,523.7 L1004.6,524.0 L1005.7,524.7 L1006.8,524.6 L1007.8,524.1 L1008.9,523.5 L1009.9,524.8 L1011.0,524.0 L1012.0,523.4 L1013.1,525.4 L1014.1,525.0 L1015.2,523.6 L1016.2,523.7 L1017.3,524.5 L1018.3,523.8 L1019.4,524.9 L1020.4,523.3 L1021.4,523.8 L1022.3,524.0 L1023.2,525.1 L1024.2,525.0 L1025.2,525.8 L1026.1,524.7 L1027.0,525.3 L1028.0,524.2 L1029.0,525.9 L1029.9,524.9 L1030.9,525.0 L1031.8,526.7 L1032.8,525.1 L1033.8,525.2 L1034.7,526.4 L1035.7,525.6 L1036.8,525.9 L1037.8,523.6 L1038.9,524.4 L1040.0,523.8 L1041.1,521.7 L1042.2,521.3 L1043.3,520.8 L1044.3,520.8 L1045.2,520.5 L1046.2,521.3 L1047.1,522.4 L1048.1,521.8 L1049.0,523.0 L1050.0,522.9 L1051.0,522.3 L1052.0,522.3 L1053.0,521.6 L1054.0,522.1 L1055.0,521.6 L1056.0,522.9 L1057.0,522.4 L1058.0,522.4 L1059.0,521.5 L1060.0,519.6 L1061.0,520.8 L1062.1,519.2 L1063.1,519.9 L1064.2,518.5 L1065.2,518.2 L1066.3,518.0 L1067.3,517.4 L1068.2,517.5 L1069.2,517.3 L1070.2,518.1 L1071.1,517.8 L1072.1,517.7 L1073.1,517.8 L1074.0,518.6 L1075.0,518.0 L1076.0,517.5 L1077.0,516.9 L1078.0,517.4 L1079.0,517.1 L1080.1,517.1 L1081.1,516.3 L1082.1,517.8 L1083.1,517.4 L1084.1,516.2 L1085.1,517.6 L1086.1,516.7 L1087.2,515.9 L1088.2,516.9 L1089.2,515.7 L1090.2,516.6 L1091.2,515.5 L1092.3,516.2 L1093.3,515.4 L1094.3,514.7 L1095.2,513.9 L1096.2,513.0 L1097.1,513.5 L1098.0,511.8 L1099.0,513.2 L1100.0,512.7 L1101.0,511.0 L1102.0,512.0 L1103.0,512.6 L1104.0,511.3 L1105.0,511.8 L1106.0,513.7 L1106.9,514.2 L1107.8,513.3 L1108.7,512.8 L1109.6,513.6 L1110.7,513.5 L1111.7,512.9 L1112.8,513.0 L1113.9,511.6 L1114.9,512.1 L1116.0,511.5 L1117.1,510.9 L1118.1,511.3 L1119.2,511.7 L1120.3,511.1 L1121.3,511.1 L1122.4,509.6 L1123.4,509.4 L1124.3,508.6 L1125.2,506.4 L1126.2,506.1 L1127.1,502.6 L1128.0,499.3 L1129.0,497.3 L1130.0,492.4 L1131.0,492.7 L1132.0,493.7 L1133.0,493.1 L1134.0,492.7 L1135.0,493.0 L1136.0,492.9 L1137.0,493.7 L1137.9,493.2 L1138.9,494.5 L1139.8,493.6 L1140.8,492.7 L1141.7,494.0 L1142.7,494.6 L1143.7,493.1 L1144.8,492.9 L1145.8,492.2 L1146.8,493.4 L1147.9,493.2 L1148.9,492.8 L1149.9,492.9 L1151.0,491.9 L1152.0,491.9 L1153.0,492.1 L1153.9,490.8 L1154.9,490.7 L1155.8,491.4 L1156.8,491.2 L1157.7,490.7 L1158.7,490.7 L1159.6,491.8 L1160.6,491.5 L1161.7,491.3 L1162.7,491.6 L1163.8,491.2 L1164.9,492.2 L1165.9,492.6 L1167.0,492.4 L1168.0,493.3 L1169.1,492.5 L1170.2,492.7 L1171.2,494.2 L1172.2,492.9 L1173.3,494.1 L1174.3,492.5 L1175.3,493.1 L1176.2,493.3 L1177.2,493.5 L1178.2,494.6 L1179.2,494.5 L1180.1,494.4 L1181.1,494.8 L1182.1,494.0 L1183.1,493.6 L1184.0,493.8 L1185.0,492.6 L1186.0,493.9 L1187.0,494.5 L1188.0,492.6 L1189.0,492.4 L1189.9,492.5 L1190.9,492.4 L1191.9,493.7 L1192.9,494.6 L1193.9,493.1 L1194.9,493.4 L1195.8,494.7 L1196.8,494.9 L1197.8,493.0 L1198.8,492.8 L1199.8,492.1 L1200.9,493.1 L1201.9,492.5 L1203.0,492.8 L1204.0,492.5 L1205.0,491.5 L1206.0,491.9 L1207.0,491.7 L1208.0,490.0 L1209.0,489.7 L1210.0,489.4 L1211.0,491.7 L1212.0,490.3 L1213.0,492.2 L1214.0,491.7 L1215.0,492.9 L1216.0,493.6 L1217.0,494.5 L1218.0,493.8 L1219.0,494.1 L1220.1,496.0 L1221.1,496.2 L1222.2,495.8 L1223.2,497.1 L1224.3,496.1 L1225.3,497.8 L1226.2,497.6 L1227.2,495.6 L1228.2,495.9 L1229.2,497.0 L1230.1,496.0 L1231.1,495.4 L1232.1,496.2 L1233.0,494.6 L1234.0,496.2 L1235.0,495.3 L1235.9,495.9 L1236.9,495.5 L1237.9,495.9 L1238.9,494.8 L1239.8,495.0 L1240.8,496.0 L1241.8,495.6 L1242.8,495.5 L1243.7,495.3 L1244.7,495.7 L1245.8,494.9 L1246.8,494.8 L1247.9,496.4 L1249.0,495.3 L1249.9,497.3 L1250.8,496.2 L1251.8,496.5 L1252.7,497.8 L1253.6,497.5 L1255.5,520.0 L1258.0,570.0 L1261.0,620.0 L1262.5,637.1 L1263.8,640.3 L1265.0,640.8 L1266.0,640.8 L1267.0,640.4 L1268.0,641.4 L1269.0,641.3 L1270.0,639.9 L1271.0,640.4 L1272.0,640.3 L1273.0,641.8 L1274.0,640.5 L1274.9,642.7 L1275.8,642.6 L1276.8,643.6 L1277.7,643.9 L1278.6,643.7 L1279.5,645.9 L1280.5,649.2 L1281.6,651.4 L1282.5,656.9 L1283.4,661.3 L1284.8,668.1 L1286.0,675.0 L1287.0,675.2 L1288.0,675.3 L1289.0,675.4 L1290.0,676.1 L1291.0,676.2 L1292.0,675.0 L1293.0,675.0 L1294.0,675.8 L1295.0,675.9 L1296.0,675.2 L1297.0,674.8 L1297.9,675.1 L1298.9,676.3 L1299.9,675.5 L1300.9,675.1 L1301.9,675.3 L1302.9,675.0 L1303.8,675.3 L1304.8,674.3 L1305.8,676.4 L1306.8,675.6 L1307.8,674.9 L1308.8,676.3 L1309.9,676.0 L1310.9,676.7 L1311.9,675.7 L1312.9,674.5 L1313.9,675.5 L1315.0,676.2 L1316.0,675.1 L1317.0,676.2 L1318.0,677.1 L1319.0,676.0 L1320.0,677.6 L1321.0,676.9 L1322.0,678.6 L1323.0,678.6 L1324.0,677.5 L1325.0,678.5 L1326.0,678.8 L1327.0,677.6 L1328.0,677.7 L1329.0,679.3 L1330.0,679.7 L1331.0,679.3 L1332.0,678.3 L1333.0,678.5 L1334.0,679.2 L1335.0,677.4 L1336.0,677.3 L1337.0,676.9 L1338.0,677.3 L1339.0,676.8 L1340.0,676.9 L1341.0,676.6 L1342.0,676.2 L1342.9,677.5 L1343.9,676.0 L1344.8,676.5 L1345.8,676.5 L1346.8,677.1 L1347.7,677.3 L1348.7,677.2 L1349.6,676.5 L1350.6,675.3 L1351.6,676.1 L1352.7,676.7 L1353.7,676.7 L1354.7,676.1 L1355.8,676.1 L1356.8,677.8 L1357.8,677.7 L1358.8,676.2 L1359.9,676.6 L1360.9,677.0 L1361.9,677.9 L1363.0,677.6 L1364.0,677.3 L1365.0,678.2 L1366.0,677.2 L1367.0,678.3 L1368.0,677.0 L1369.0,677.4 L1370.0,677.9 L1371.0,678.7 L1372.0,679.6 L1373.0,678.9 L1374.0,678.1 L1375.0,678.4 L1376.0,678.1 L1377.0,680.3 L1378.0,680.2 L1379.0,679.3 L1380.0,678.7 L1381.0,679.8 L1382.0,678.4 L1383.0,679.1 L1384.0,678.1 L1385.0,679.1 L1386.0,679.1 L1387.0,677.1 L1388.1,678.2 L1389.1,677.4 L1390.1,676.7 L1391.2,677.0 L1392.2,677.6 L1393.2,676.5 L1394.3,678.3 L1395.3,676.4 L1396.3,677.5 L1397.2,676.2 L1398.2,677.2 L1399.1,675.9 L1400.1,676.2 L1401.0,675.3 L1402.0,676.1 L1403.1,676.0 L1404.2,675.4 L1405.2,675.6 L1406.3,674.2 L1407.4,673.1 L1408.5,673.3 L1409.4,672.7 L1410.4,672.9 L1411.3,672.1 L1412.2,672.4 L1413.2,672.4 L1414.1,671.3 L1415.1,672.3 L1416.0,672.0 L1417.0,671.0 L1418.1,672.1 L1419.1,670.4 L1420.2,670.5 L1421.2,670.5 L1422.2,670.6 L1423.3,669.8 L1424.3,669.8 L1425.3,670.3 L1426.2,669.1 L1427.2,669.8 L1428.1,669.9 L1429.1,668.5 L1430.0,667.4 L1431.0,669.1 L1432.1,667.9 L1433.2,667.9 L1434.2,665.9 L1435.3,666.9 L1436.4,666.6 L1437.5,665.2 L1438.5,665.6 L1439.4,666.3 L1440.3,665.9 L1441.3,664.5 L1442.2,666.1 L1443.2,664.6 L1444.2,666.1 L1445.1,666.0 L1446.0,665.8 L1447.0,665.4 L1448.0,664.6 L1449.0,665.0 L1450.0,665.1 L1451.0,664.0 L1452.0,664.6 L1453.0,664.5 L1454.0,665.3 L1455.0,664.7 L1456.0,664.0 L1457.0,665.3 L1458.0,664.7 L1459.0,666.3 L1460.0,665.2 L1461.0,665.2 L1462.0,664.5 L1463.0,665.7 L1464.0,665.8 L1465.0,665.5 L1466.0,665.8 L1467.0,664.9 L1468.0,667.2 L1469.0,665.6 L1470.0,666.8 L1471.0,667.1 L1472.0,667.2 L1473.0,666.4 L1474.0,667.9 L1475.0,666.3 L1476.0,667.2 L1477.0,667.1 L1478.0,666.3 L1479.0,666.2 L1480.0,667.2 L1481.0,665.3 L1481.9,666.5 L1482.9,665.8 L1483.9,666.0 L1484.9,666.8 L1485.9,666.3 L1486.9,667.4 L1487.9,665.1 L1489.0,665.1 L1490.0,665.9 L1491.0,664.7 L1492.0,664.8 L1493.0,664.2 L1494.0,663.3 L1495.0,663.3 L1496.0,664.2 L1497.0,663.0 L1498.0,663.9 L1499.0,663.8 L1500.0,662.4 L1501.0,662.8 L1501.9,662.7 L1502.9,661.4 L1503.8,662.5 L1504.8,661.1 L1505.7,661.9 L1506.7,662.4 L1507.6,661.6 L1508.6,660.9 L1509.6,660.1 L1510.7,661.4 L1511.7,660.8 L1512.8,661.5 L1513.8,660.5 L1514.8,661.2 L1515.9,660.3 L1516.9,660.1 L1518.0,660.6 L1519.0,661.2 L1520.0,661.4 L1520.9,660.6 L1521.9,661.5 L1522.9,660.2 L1523.8,660.3 L1524.8,661.2 L1525.7,660.0 L1526.7,661.8 L1527.7,661.9 L1528.6,661.6 L1529.6,660.0 L1530.6,659.7 L1531.7,661.3 L1532.7,660.4 L1533.8,660.2 L1534.8,661.1 L1535.8,659.7 L1536.9,659.2 L1537.9,659.1 L1539.0,659.1 L1540.0,659.3 L1541.0,660.4 L1541.9,660.7 L1542.9,660.6 L1543.9,659.3 L1544.9,660.4 L1545.8,658.9 L1546.8,659.8 L1547.8,660.0 L1548.8,660.0 L1549.7,659.1 L1550.7,658.4 L1551.7,659.5 L1552.7,658.9 L1553.8,657.6 L1554.8,657.2 L1555.8,656.7 L1556.8,657.3 L1557.8,656.9 L1558.9,657.5 L1559.9,657.5 L1560.9,656.0 L1561.9,656.6 L1563.0,655.8 L1564.0,654.5 L1565.0,655.2 L1566.0,655.4 L1567.0,654.3 L1567.9,655.4 L1568.9,654.8 L1569.9,654.2 L1570.9,653.1 L1571.9,653.5 L1572.8,653.2 L1573.8,654.1 L1574.8,653.1 L1575.8,651.6 L1576.8,653.0 L1577.7,652.4 L1578.7,651.2 L1579.7,651.2 L1580.7,649.9 L1581.7,650.5 L1582.8,649.8 L1583.8,651.1 L1584.8,649.4 L1585.8,650.2 L1586.9,650.0 L1587.9,649.9 L1588.9,648.4 L1589.9,650.2 L1591.0,649.7 L1592.0,649.2 L1593.0,649.4 L1594.0,648.2 L1595.0,648.7 L1596.0,648.6 L1597.0,647.1 L1598.0,648.5 L1599.0,648.2 L1600.0,648.4 L1601.0,648.9 L1602.0,647.2 L1603.0,647.5 L1604.0,647.0 L1605.0,647.2 L1606.0,647.4 L1607.0,647.6 L1608.1,646.4 L1609.2,646.7 L1610.2,646.1 L1611.2,647.8 L1612.3,645.6 L1613.3,646.3 L1614.4,647.4 L1615.5,645.2 L1616.5,647.2 L1617.6,646.0 L1618.6,646.9 L1619.7,645.9 L1620.8,646.4 L1621.8,647.3 L1622.9,647.1 L1623.9,646.4 L1625.0,647.4 L1626.0,647.2 L1627.0,648.5 L1628.0,648.2 L1629.0,648.5 L1630.0,647.7 L1631.0,648.1 L1632.0,648.0 L1633.0,648.9 L1634.0,647.7 L1635.0,648.6 L1636.0,648.2 L1637.0,647.8 L1638.0,649.1 L1639.0,647.7 L1640.0,646.8 L1641.0,647.9 L1642.0,646.8 L1643.0,648.5 L1644.0,647.5 L1645.0,647.8 L1646.0,647.6 L1647.0,647.1 L1648.0,647.4 L1649.0,647.2 L1650.0,648.6 L1651.0,649.2 L1652.0,647.9 L1653.0,648.1 L1654.0,650.2 L1654.9,649.1 L1655.8,649.2 L1656.8,649.3 L1657.8,651.1 L1658.7,651.3 L1659.8,650.1 L1660.8,649.2 L1661.8,649.1 L1662.9,649.6 L1664.0,650.1 L1665.0,648.0 L1666.0,647.6 L1666.9,648.5 L1667.9,647.7 L1668.9,648.0 L1669.9,647.7 L1670.8,647.8 L1671.8,648.8 L1672.8,648.0 L1673.8,649.0 L1674.8,647.4 L1675.9,649.5 L1676.9,648.3 L1677.9,647.3 L1678.9,647.1 L1679.9,648.6 L1681.0,647.6 L1682.0,648.0 L1683.0,647.8 L1684.0,647.9 L1685.0,648.7 L1685.9,648.9 L1686.9,648.5 L1687.8,649.4 L1688.8,650.0 L1689.8,650.2 L1690.7,649.0 L1691.7,651.0 L1692.6,650.8 L1693.6,650.1 L1694.5,649.5 L1695.5,649.5"/>
<path stroke="#0000ff" d="M265.0,687.4 L266.0,687.4 L267.0,687.3 L268.0,687.6 L269.0,688.0 L270.0,688.3 L271.0,688.0 L272.0,688.6 L273.0,688.3 L274.0,688.5 L275.0,689.0 L276.0,689.0 L277.0,689.4 L278.0,689.1 L279.0,688.9 L280.0,689.7 L281.0,690.1 L282.0,689.6 L283.0,690.0 L284.0,690.0 L285.0,690.5 L286.0,689.9 L287.0,690.0 L288.0,690.1 L289.0,690.7 L290.0,690.5 L291.0,690.6 L292.0,690.4 L293.0,690.4 L294.0,691.1 L295.0,690.8 L296.0,691.6 L297.0,691.2 L298.0,691.0 L299.0,691.0 L300.0,691.9 L301.0,692.1 L302.0,691.4 L303.0,691.3 L304.0,691.9 L305.0,691.4 L306.0,691.4 L307.0,692.2 L308.0,692.2 L309.0,691.4 L310.0,692.2 L311.0,692.1 L312.0,692.3 L313.0,691.8 L314.0,692.0 L315.0,692.3 L316.0,692.6 L317.0,692.7 L318.0,692.5 L319.0,692.6 L320.0,692.0 L321.0,692.4 L322.0,692.7 L323.0,692.7 L324.0,692.5 L325.0,692.4 L326.0,692.1 L327.0,692.7 L328.0,692.2 L329.0,692.1 L330.0,692.0 L331.0,692.7 L332.0,692.8 L333.0,692.3 L334.0,692.0 L335.0,692.0 L336.0,692.3 L337.0,692.4 L338.0,693.0 L339.0,692.7 L340.0,692.6 L341.0,692.5 L342.0,692.4 L343.0,692.3 L344.0,692.5 L345.0,692.3 L346.0,692.0 L347.0,692.4 L348.0,692.9 L349.0,692.8 L350.0,692.3 L351.0,692.2 L352.0,692.1 L353.0,692.3 L354.0,692.1 L355.0,691.8 L356.0,692.4 L357.0,691.8 L358.0,692.2 L359.0,692.5 L360.0,691.6 L361.0,691.9 L362.0,692.4 L363.0,691.8 L364.0,692.0 L365.0,692.1 L366.0,692.0 L367.0,692.2 L368.0,691.9 L369.0,692.4 L370.0,691.4 L371.0,691.9 L372.0,692.2 L373.0,691.8 L374.0,691.6 L375.0,691.0 L376.0,691.1 L377.0,691.6 L378.0,690.8 L379.0,691.0 L380.0,691.0 L381.0,691.2 L382.0,691.3 L383.0,691.6 L384.0,691.5 L385.0,691.2 L386.0,691.0 L387.0,690.6 L388.0,691.0 L389.0,690.5 L390.0,690.4 L391.0,690.1 L392.0,690.7 L393.0,690.7 L394.0,689.9 L395.0,689.9 L396.0,690.1 L397.0,689.8 L398.0,690.3 L399.0,690.2 L400.0,690.2 L401.0,690.2 L402.0,689.8 L403.0,690.4 L404.0,689.6 L405.0,690.0 L406.0,690.0 L407.0,690.0 L408.0,690.0 L409.0,689.6 L410.0,689.8 L411.0,689.1 L412.0,689.3 L413.0,689.8 L414.0,689.2 L415.0,689.0 L416.0,689.5 L417.0,688.8 L418.0,688.9 L419.0,689.4 L420.0,688.7 L421.0,689.4 L422.0,688.7 L423.0,688.8 L424.0,689.4 L425.0,689.4 L426.0,689.6 L427.0,688.6 L428.0,688.9 L429.0,689.3 L430.0,689.4 L431.0,688.6 L432.0,688.8 L433.0,689.1 L434.0,688.6 L435.0,689.2 L436.0,689.0 L437.0,689.2 L438.0,689.2 L439.0,689.0 L440.0,688.4 L441.0,688.6 L442.0,688.9 L443.0,689.2 L444.0,688.7 L445.0,689.0 L446.0,688.5 L447.0,689.0 L448.0,689.2 L449.0,688.7 L450.0,688.4 L451.0,688.9 L452.0,688.9 L453.0,689.0 L454.0,688.1 L455.0,688.9 L455.9,688.4 L456.9,688.8 L457.9,688.8 L458.9,688.0 L459.9,688.7 L460.9,688.0 L461.9,688.6 L462.9,688.8 L463.9,688.0 L464.9,688.3 L465.9,688.6 L466.9,688.2 L467.8,687.9 L468.8,688.4 L469.8,688.3 L470.8,688.2 L471.8,688.3 L472.8,688.5 L473.8,688.6 L474.8,688.2 L475.8,688.4 L476.8,688.2 L477.8,687.9 L478.7,688.0 L479.7,688.4 L480.7,688.5 L481.7,688.0 L482.7,687.5 L483.7,687.5 L484.7,687.8 L485.7,688.2 L486.7,687.4 L487.7,687.8 L488.7,687.2 L489.7,687.6 L490.8,687.9 L491.8,687.6 L492.8,687.4 L493.8,687.4 L494.8,687.9 L495.8,687.5 L496.8,687.8 L497.8,687.4 L498.8,687.9 L499.8,687.6 L500.8,686.9 L501.8,687.1 L502.8,686.8 L503.9,687.4 L504.9,687.8 L505.9,687.2 L506.9,687.2 L507.9,687.7 L508.9,687.5 L509.9,687.8 L510.9,688.0 L511.9,686.9 L512.9,687.4 L513.9,687.2 L514.9,687.0 L515.9,687.5 L517.0,687.0 L518.0,686.5 L519.0,687.0 L520.0,686.4 L521.0,687.2 L522.0,687.2 L523.0,687.0 L524.0,686.6 L525.0,687.1 L526.0,686.5 L527.0,686.4 L528.0,686.7 L529.0,686.5 L530.0,687.0 L531.0,686.5 L532.0,686.6 L533.0,686.7 L534.0,687.4 L535.0,687.3 L536.0,687.2 L537.0,687.3 L538.0,687.3 L539.0,686.7 L540.0,686.6 L541.0,686.2 L542.0,687.1 L543.0,687.2 L544.0,686.6 L545.0,686.6 L546.0,686.4 L547.0,686.9 L548.0,686.8 L549.0,687.1 L550.0,687.1 L551.0,687.0 L552.0,686.9 L553.0,686.4 L554.0,687.1 L555.0,687.1 L556.0,687.0 L557.0,686.5 L558.0,686.8 L559.0,686.8 L560.0,686.8 L561.0,686.6 L562.0,687.3 L563.0,686.3 L564.0,686.6 L565.0,686.9 L566.0,686.5 L567.0,686.9 L568.0,687.1 L569.0,687.0 L570.0,686.7 L571.0,686.6 L572.0,687.1 L573.0,686.9 L574.0,686.4 L575.0,686.1 L576.0,686.7 L577.0,686.5 L578.0,685.9 L579.0,686.6 L580.0,686.5 L581.0,686.2 L582.0,686.6 L583.0,686.4 L584.0,686.9 L585.0,686.2 L586.0,686.4 L587.0,686.0 L588.0,686.8 L589.0,686.9 L590.0,686.7 L591.0,686.5 L592.0,686.5 L593.0,686.7 L594.0,686.2 L595.0,685.9 L596.0,685.6 L597.0,685.7 L598.0,685.7 L599.0,685.9 L600.0,685.9 L601.0,686.4 L602.0,685.8 L603.0,685.5 L604.0,686.1 L605.0,686.0 L606.0,686.9 L607.0,686.0 L608.0,686.5 L609.0,685.9 L610.0,686.2 L611.0,686.6 L612.0,686.1 L613.0,686.1 L614.0,686.4 L615.0,686.0 L616.0,686.0 L617.0,685.6 L618.0,685.9 L619.0,686.0 L620.0,685.6 L621.0,686.6 L622.0,686.3 L623.0,685.9 L624.0,686.2 L625.0,686.1 L626.0,686.4 L627.0,686.5 L628.0,686.5 L629.0,685.9 L630.0,685.8 L631.0,686.3 L632.0,686.3 L633.0,686.3 L634.0,686.1 L635.0,685.9 L636.0,686.1 L637.0,685.7 L638.0,685.7 L639.0,685.6 L640.0,685.7 L641.0,686.3 L642.0,685.4 L643.0,685.9 L644.0,686.0 L645.0,685.7 L646.0,685.4 L647.0,685.8 L648.0,685.9 L649.0,686.3 L650.0,686.3 L651.0,686.1 L652.0,686.3 L653.0,685.7 L654.0,686.2 L655.0,685.7 L656.0,686.0 L657.0,686.0 L658.0,685.6 L659.0,685.7 L660.0,686.4 L661.0,686.4 L662.0,686.4 L663.0,686.0 L664.0,685.8 L665.0,686.1 L666.0,685.7 L667.0,686.1 L668.0,685.9 L669.0,685.6 L670.0,686.1 L671.0,686.3 L672.0,685.8 L673.0,685.8 L674.0,686.0 L675.0,685.3 L676.0,685.4 L677.0,685.5 L678.0,685.8 L679.0,685.5 L680.0,685.8 L681.0,685.3 L682.0,685.6 L683.0,685.3 L684.0,685.4 L685.0,685.6 L686.0,685.7 L687.0,685.7 L688.0,685.6 L689.0,685.6 L690.0,685.9 L691.0,685.5 L692.0,685.9 L693.0,685.3 L694.0,686.1 L695.0,685.6 L696.0,685.7 L697.0,685.5 L698.0,685.9 L699.0,685.9 L700.0,685.6 L701.0,685.4 L702.0,686.0 L703.0,685.3 L704.0,685.3 L705.0,685.8 L706.0,685.9 L707.0,685.7 L708.0,684.9 L709.0,685.1 L710.0,685.4 L711.0,685.4 L712.0,685.1 L713.0,685.3 L714.0,685.0 L715.0,685.8 L716.0,685.0 L717.0,685.7 L718.0,685.1 L719.0,685.6 L720.0,685.8 L721.0,685.0 L722.0,684.9 L723.0,684.9 L724.0,685.5 L725.0,685.3 L726.0,685.8 L727.0,685.5 L728.0,685.5 L729.0,685.6 L730.0,684.8 L731.0,685.2 L732.0,685.2 L733.0,685.5 L734.0,685.0 L735.0,684.7 L736.0,685.0 L737.0,685.5 L738.0,684.9 L739.0,685.4 L740.0,684.9 L741.0,685.1 L742.0,684.6 L743.0,684.5 L744.0,684.5 L745.0,684.7 L746.0,684.8 L747.0,685.0 L748.0,684.3 L749.0,684.9 L750.0,685.2 L751.0,685.0 L752.0,684.7 L753.0,684.2 L754.0,685.0 L755.0,684.6 L756.0,684.3 L757.0,684.9 L758.0,684.8 L759.0,684.7 L760.0,684.6 L761.0,683.9 L762.0,684.8 L763.0,683.5 L764.0,683.4 L765.0,682.9 L766.0,680.4 L767.1,679.9 L768.2,678.1 L769.3,675.6 L770.3,677.0 L771.2,675.6 L772.2,675.9 L773.2,677.4 L774.1,677.0 L775.1,676.8 L776.1,677.2 L777.0,676.8 L778.0,677.2 L779.0,678.6 L780.0,678.4 L781.0,677.3 L782.0,677.9 L783.0,678.7 L784.0,679.4 L785.0,679.9 L786.0,679.9 L787.0,679.1 L788.0,680.7 L789.0,679.6 L790.0,680.5 L791.0,679.7 L792.0,680.9 L793.0,680.4 L794.0,680.9 L795.0,679.2 L796.0,681.1 L797.0,681.2 L798.0,679.8 L799.0,681.3 L800.0,680.8 L801.0,680.5 L802.0,680.8 L803.0,681.5 L804.0,681.5 L804.9,682.8 L805.9,682.8 L806.9,681.7 L807.8,682.3 L808.8,682.9 L809.8,682.8 L810.7,681.7 L811.7,682.2 L812.6,683.7 L813.6,683.5 L814.6,682.4 L815.5,682.1 L816.5,683.1 L817.5,682.7 L818.5,683.2 L819.5,682.5 L820.6,683.4 L821.6,682.8 L822.6,681.9 L823.6,682.8 L824.6,683.6 L825.6,683.7 L826.7,683.2 L827.7,682.4 L828.7,684.1 L829.7,682.6 L830.7,683.3 L831.8,683.8 L832.8,683.5 L833.8,684.8 L834.8,683.3 L835.8,684.9 L836.8,682.9 L837.9,683.8 L838.9,684.6 L839.9,682.6 L840.9,683.2 L841.9,684.5 L842.9,684.6 L844.0,683.3 L845.0,683.9 L846.0,684.7 L847.0,683.6 L848.0,684.7 L849.0,685.1 L850.0,683.7 L851.0,683.6 L852.0,684.7 L853.0,685.0 L854.0,683.3 L855.0,683.4 L856.0,683.2 L857.0,684.2 L858.0,684.9 L859.0,684.7 L860.0,684.0 L861.0,684.5 L862.0,684.4 L863.0,684.3 L864.0,684.8 L865.0,683.2 L866.0,684.5 L867.0,685.2 L868.0,684.2 L869.0,684.6 L870.0,684.4 L871.0,685.0 L872.0,683.8 L873.0,685.2 L874.0,685.5 L875.0,685.2 L876.0,684.9 L877.0,684.5 L878.0,684.1 L879.0,683.7 L880.0,683.2 L881.0,683.6 L882.0,684.0 L883.0,683.9 L884.0,684.2 L885.1,684.8 L886.1,684.2 L887.1,683.7 L888.1,684.7 L889.1,683.4 L890.1,684.8 L891.1,683.5 L892.1,684.4 L893.1,684.2 L894.1,684.5 L895.2,683.4 L896.2,684.0 L897.2,684.8 L898.2,684.0 L899.2,684.2 L900.2,684.6 L901.2,685.2 L902.2,684.2 L903.2,684.9 L904.3,685.3 L905.3,685.5 L906.3,683.8 L907.3,685.1 L908.3,685.0 L909.3,683.9 L910.3,683.9 L911.3,683.9 L912.3,684.9 L913.3,685.5 L914.4,684.5 L915.4,685.0 L916.4,684.8 L917.4,683.7 L918.4,684.4 L919.4,684.8 L920.4,684.1 L921.4,685.5 L922.4,684.2 L923.4,685.0 L924.3,684.6 L925.3,685.2 L926.3,685.4 L927.3,683.8 L928.3,683.4 L929.3,684.7 L930.3,683.9 L931.3,684.4 L932.3,683.7 L933.3,683.7 L934.2,685.6 L935.2,683.9 L936.2,684.5 L937.2,685.4 L938.2,685.5 L939.2,683.9 L940.2,683.9 L941.2,684.9 L942.2,684.1 L943.2,684.3 L944.2,683.6 L945.1,685.2 L946.1,685.3 L947.1,684.8 L948.1,685.0 L949.1,684.7 L950.1,683.7 L951.1,685.2 L952.1,683.5 L953.1,685.3 L954.1,684.4 L955.0,684.9 L956.0,683.9 L957.0,684.5 L958.0,685.0 L959.0,684.7 L960.0,684.6 L961.0,683.5 L962.0,683.6 L963.0,683.5 L964.0,684.9 L965.0,683.9 L966.0,684.7 L967.0,683.8 L968.0,684.3 L969.0,683.4 L970.0,685.0 L971.0,683.4 L972.0,683.4 L973.0,683.5 L974.0,684.0 L975.0,683.8 L976.0,684.1 L977.0,683.4 L978.0,682.6 L979.0,683.2 L980.0,683.2 L981.0,683.3 L982.0,683.3 L983.0,683.8 L984.0,684.0 L985.0,683.8 L986.0,683.7 L987.0,683.9 L988.0,683.9 L989.0,685.0 L990.0,684.5 L991.0,685.3 L992.0,684.4 L993.0,685.3 L994.0,683.9 L995.0,683.7 L996.0,684.0 L997.0,684.4 L998.0,684.3 L999.0,683.0 L1000.0,684.7 L1001.0,683.4 L1002.0,684.6 L1003.0,683.5 L1004.0,684.9 L1005.0,684.1 L1006.0,685.0 L1007.0,684.4 L1008.0,683.8 L1009.0,684.8 L1010.0,683.6 L1011.0,684.6 L1012.0,684.7 L1013.0,684.6 L1014.0,683.5 L1015.0,683.6 L1016.0,683.4 L1017.0,685.0 L1018.0,684.6 L1019.0,684.6 L1020.0,684.5 L1021.0,684.6 L1022.0,684.7 L1023.0,684.1 L1024.0,684.9 L1025.0,685.5 L1026.0,684.3 L1027.0,685.0 L1028.0,685.4 L1029.0,684.9 L1030.0,684.6 L1031.0,685.2 L1032.0,684.0 L1033.0,683.9 L1034.0,684.9 L1035.0,684.4 L1036.0,684.5 L1037.0,685.5 L1038.0,685.3 L1039.0,684.7 L1040.0,684.3 L1041.0,684.2 L1042.0,683.5 L1043.0,683.9 L1044.0,683.6 L1045.0,683.7 L1046.0,684.3 L1047.0,684.4 L1048.0,684.3 L1049.0,684.7 L1050.0,685.5 L1051.0,684.2 L1052.0,685.2 L1053.0,683.4 L1054.0,683.7 L1055.0,684.2 L1056.0,684.3 L1057.0,684.8 L1058.0,685.5 L1059.0,685.0 L1060.0,683.9 L1061.0,684.6 L1062.0,684.7 L1063.0,684.4 L1064.0,685.0 L1065.0,684.3 L1066.0,684.3 L1067.0,684.2 L1068.0,684.5 L1069.0,683.9 L1070.0,685.0 L1071.0,685.0 L1072.0,684.9 L1073.0,685.1 L1074.0,683.9 L1075.0,685.0 L1076.0,683.9 L1077.0,683.9 L1078.0,683.1 L1079.0,684.2 L1080.0,685.0 L1081.0,684.2 L1082.0,683.5 L1083.0,684.6 L1084.0,684.4 L1085.0,684.9 L1086.0,683.9 L1087.0,683.3 L1088.0,683.4 L1089.0,684.1 L1090.0,683.9 L1091.0,684.3 L1092.0,683.8 L1093.0,684.4 L1093.9,684.6 L1094.9,683.5 L1095.9,683.5 L1096.9,684.3 L1097.9,682.9 L1098.9,684.0 L1099.9,683.0 L1100.9,683.3 L1101.8,683.8 L1102.8,684.2 L1103.8,682.3 L1104.8,683.6 L1105.8,682.9 L1106.8,683.8 L1107.8,682.4 L1108.8,682.1 L1109.7,682.7 L1110.7,683.4 L1111.7,681.9 L1112.7,681.8 L1113.7,682.8 L1114.7,683.1 L1115.7,682.9 L1116.6,681.6 L1117.6,682.0 L1118.6,683.2 L1119.6,682.7 L1120.6,682.7 L1121.6,682.3 L1122.6,681.7 L1123.6,681.8 L1124.5,682.7 L1125.5,683.2 L1126.5,683.4 L1127.5,681.9 L1128.5,681.5 L1129.5,683.0 L1130.5,682.7 L1131.4,681.3 L1132.4,682.6 L1133.4,681.9 L1134.4,682.2 L1135.4,681.0 L1136.4,682.5 L1137.4,682.0 L1138.4,681.8 L1139.3,681.3 L1140.3,681.3 L1141.3,681.2 L1142.3,681.3 L1143.3,680.2 L1144.3,680.7 L1145.3,681.2 L1146.2,680.6 L1147.2,681.2 L1148.2,681.3 L1149.2,680.5 L1150.2,681.0 L1151.2,680.5 L1152.2,680.7 L1153.2,680.3 L1154.1,681.8 L1155.1,680.2 L1156.1,679.9 L1157.1,681.6 L1158.1,680.7 L1159.1,681.0 L1160.1,681.3 L1161.1,681.1 L1162.0,680.1 L1163.0,680.1 L1164.0,680.9 L1165.0,681.5 L1166.0,680.3 L1167.0,680.2 L1168.0,681.1 L1169.0,680.3 L1170.0,679.8 L1171.0,680.6 L1172.0,681.0 L1173.0,680.6 L1174.0,680.5 L1175.0,680.3 L1176.0,679.0 L1177.0,679.7 L1178.0,679.0 L1179.0,679.0 L1180.0,679.2 L1181.0,680.2 L1182.0,680.3 L1183.0,680.4 L1184.0,680.5 L1185.0,679.6 L1186.0,680.4 L1187.0,679.1 L1188.0,681.1 L1189.0,680.4 L1190.0,680.2 L1191.0,679.3 L1192.0,679.7 L1193.0,678.8 L1194.0,680.4 L1195.0,679.9 L1196.0,679.6 L1197.0,680.5 L1198.0,679.8 L1199.0,678.7 L1200.0,680.3 L1201.0,679.4 L1202.0,679.6 L1203.0,679.2 L1204.0,679.6 L1205.0,678.7 L1206.0,679.5 L1207.0,678.4 L1208.0,678.6 L1209.0,679.8 L1210.0,679.1 L1211.0,679.8 L1212.0,679.3 L1213.0,679.0 L1214.0,678.5 L1215.0,677.7 L1216.0,677.9 L1217.0,678.8 L1218.0,678.3 L1219.0,677.8 L1220.0,676.7 L1221.0,677.4 L1222.0,678.9 L1223.0,678.4 L1224.0,677.7 L1225.0,678.9 L1226.0,678.5 L1227.0,677.3 L1228.0,678.3 L1229.0,678.2 L1230.0,677.2 L1231.0,676.7 L1232.0,677.6 L1233.0,677.4 L1234.0,677.0 L1235.0,677.6 L1236.0,676.5 L1237.0,676.3 L1238.0,677.8 L1239.0,677.7 L1240.0,677.1 L1241.0,676.4 L1242.0,677.2 L1243.0,678.2 L1244.0,676.9 L1245.0,678.2 L1246.1,678.4 L1247.1,676.9 L1248.2,677.7 L1249.2,677.7 L1250.3,678.5 L1251.3,678.5 L1252.4,678.3 L1253.2,679.2 L1254.0,679.1 L1254.9,683.0 L1255.8,685.4 L1256.6,686.3 L1257.5,689.3 L1258.6,690.3 L1259.8,691.6 L1260.9,692.2 L1262.0,692.7 L1263.0,692.2 L1264.0,692.7 L1265.0,692.8 L1266.0,692.4 L1267.0,693.7 L1268.0,694.2 L1269.0,692.4 L1270.0,692.8 L1271.0,694.6 L1272.0,694.3 L1273.0,693.8 L1274.0,693.6 L1275.0,694.5 L1276.0,693.5 L1277.0,693.0 L1278.0,694.4 L1279.0,693.8 L1280.0,693.5 L1281.0,695.1 L1282.0,693.7 L1283.0,693.9 L1284.0,694.0 L1285.0,694.0 L1286.0,693.6 L1287.0,695.0 L1288.0,694.2 L1289.0,693.8 L1290.0,694.4 L1291.0,693.8 L1292.0,694.0 L1293.0,693.7 L1294.0,694.3 L1295.0,693.7 L1296.0,693.8 L1297.0,693.9 L1298.0,693.7 L1299.0,692.8 L1300.0,693.1 L1301.0,693.2 L1302.0,694.6 L1303.0,693.2 L1304.0,693.1 L1305.0,694.3 L1306.0,694.4 L1307.0,694.2 L1308.0,694.0 L1309.0,693.7 L1310.0,694.8 L1311.0,693.8 L1312.0,694.5 L1313.0,694.7 L1314.0,693.9 L1315.0,693.5 L1316.0,694.4 L1317.0,694.1 L1318.0,695.1 L1319.0,695.1 L1320.0,693.5 L1321.0,695.1 L1322.0,694.5 L1323.0,694.0 L1324.0,694.1 L1325.0,693.6 L1326.0,694.4 L1327.0,695.1 L1328.0,693.8 L1329.0,695.1 L1330.0,694.5 L1331.0,694.2 L1332.0,694.6 L1333.0,695.2 L1334.0,694.1 L1335.0,695.1 L1336.0,693.5 L1337.0,693.7 L1338.0,693.7 L1339.0,694.2 L1340.0,694.4 L1341.0,694.1 L1342.0,694.9 L1343.0,694.3 L1344.0,693.4 L1345.0,695.0 L1346.0,694.4 L1347.0,694.1 L1348.0,694.5 L1349.0,693.4 L1350.0,693.1 L1351.0,693.4 L1352.0,694.9 L1353.0,694.1 L1354.0,694.7 L1355.0,693.8 L1356.0,694.5 L1357.0,693.8 L1358.0,693.1 L1359.0,694.2 L1360.0,693.4 L1361.0,694.7 L1362.0,695.0 L1363.0,693.5 L1364.0,694.7 L1365.0,694.4 L1366.0,693.3 L1367.0,694.5 L1368.0,693.7 L1369.0,694.6 L1370.0,694.5 L1371.0,693.6 L1372.0,693.8 L1373.0,693.8 L1374.0,692.8 L1375.0,693.7 L1376.0,693.2 L1377.0,695.0 L1378.0,694.7 L1379.0,694.6 L1380.0,694.1 L1381.0,695.0 L1382.0,693.9 L1383.0,693.8 L1384.0,694.3 L1385.0,694.7 L1386.0,693.6 L1387.0,692.9 L1388.0,694.7 L1389.0,694.8 L1390.0,694.7 L1391.0,694.3 L1392.0,694.0 L1393.0,694.2 L1394.0,693.8 L1395.0,694.7 L1396.0,693.3 L1397.0,693.9 L1398.0,694.3 L1399.0,693.8 L1400.0,693.8 L1401.0,694.3 L1402.0,693.4 L1403.0,693.6 L1404.0,694.4 L1405.0,693.6 L1406.0,693.7 L1407.0,694.1 L1408.0,694.0 L1409.0,694.6 L1410.0,694.7 L1411.0,693.7 L1412.0,694.8 L1413.0,694.5 L1414.0,693.7 L1415.0,693.6 L1416.0,693.2 L1417.0,693.7 L1418.0,694.6 L1419.0,694.1 L1420.0,693.6 L1421.0,694.0 L1422.0,693.8 L1423.0,694.2 L1424.0,693.3 L1425.0,693.8 L1426.0,694.2 L1427.0,694.9 L1428.0,693.8 L1429.0,693.5 L1430.0,694.8 L1431.0,693.2 L1432.0,693.4 L1433.0,694.3 L1434.0,694.1 L1435.0,695.2 L1436.0,695.1 L1437.0,695.0 L1438.0,693.3 L1439.0,693.6 L1440.0,694.2 L1441.0,693.7 L1442.0,694.7 L1443.0,693.1 L1444.0,694.3 L1445.0,693.3 L1446.0,694.3 L1447.0,693.9 L1448.0,694.3 L1449.0,693.0 L1450.0,694.3 L1451.0,693.4 L1452.0,694.1 L1453.0,692.9 L1454.0,693.8 L1455.0,693.2 L1456.0,694.6 L1457.0,693.6 L1458.0,693.6 L1459.0,694.0 L1460.0,694.5 L1461.0,693.4 L1462.0,694.4 L1463.0,693.6 L1464.0,693.3 L1465.0,694.7 L1466.0,694.5 L1467.0,694.7 L1468.0,694.7 L1469.0,693.5 L1470.0,694.0 L1471.0,694.7 L1472.0,695.0 L1473.0,693.8 L1474.0,693.5 L1475.0,693.5 L1476.0,693.0 L1477.0,694.2 L1478.0,694.1 L1479.0,693.6 L1480.0,692.5 L1481.0,693.4 L1482.0,693.6 L1483.0,692.8 L1484.0,692.8 L1485.0,694.6 L1486.0,693.6 L1487.0,694.7 L1488.0,694.6 L1489.0,694.0 L1490.0,692.9 L1491.0,693.4 L1492.0,693.6 L1493.0,695.1 L1494.0,694.6 L1495.0,693.7 L1496.0,694.6 L1497.0,694.5 L1498.0,693.5 L1499.0,693.0 L1500.0,693.8 L1501.0,693.2 L1502.0,693.0 L1503.0,693.2 L1504.0,694.8 L1505.0,693.3 L1506.0,693.6 L1507.0,693.8 L1508.0,693.8 L1509.0,694.9 L1510.0,693.6 L1511.0,694.1 L1512.0,694.9 L1513.0,694.7 L1514.0,694.9 L1515.0,694.7 L1516.0,694.8 L1517.0,695.0 L1518.0,693.6 L1519.0,694.1 L1520.0,693.9 L1521.0,694.2 L1522.0,694.8 L1523.0,693.5 L1524.0,693.2 L1525.0,694.7 L1526.0,693.8 L1527.0,694.8 L1528.0,695.2 L1529.0,693.5 L1530.0,694.0 L1531.0,693.0 L1532.0,694.4 L1533.0,693.4 L1534.0,693.4 L1535.0,693.5 L1536.0,695.1 L1537.0,693.5 L1538.0,694.7 L1539.0,693.7 L1540.0,693.2 L1541.0,694.9 L1542.0,694.5 L1543.0,693.4 L1544.0,693.7 L1545.0,694.7 L1546.0,694.2 L1547.0,693.5 L1548.0,694.6 L1549.0,694.3 L1550.0,694.8 L1551.0,694.3 L1552.0,694.6 L1553.0,694.0 L1554.0,693.3 L1555.0,693.1 L1556.0,694.2 L1557.0,693.1 L1558.0,693.7 L1559.0,693.5 L1560.0,694.2 L1561.0,693.5 L1562.0,692.7 L1563.0,692.8 L1564.0,693.3 L1565.0,693.1 L1566.0,693.4 L1567.0,694.1 L1568.0,694.0 L1569.0,694.6 L1570.0,694.0 L1571.0,693.3 L1572.0,693.6 L1573.0,693.6 L1574.0,694.4 L1575.0,694.5 L1576.0,693.3 L1577.0,692.5 L1578.0,692.8 L1579.0,693.5 L1580.0,693.5 L1581.0,693.2 L1582.0,692.7 L1583.0,694.1 L1584.0,693.0 L1585.0,692.6 L1586.0,694.0 L1587.0,693.3 L1588.0,692.6 L1589.0,692.9 L1590.0,693.3 L1591.0,692.2 L1592.0,693.9 L1593.0,693.7 L1594.0,692.3 L1595.0,693.4 L1596.0,692.7 L1597.0,694.1 L1598.0,694.2 L1599.0,692.4 L1600.0,693.8 L1601.0,692.4 L1602.0,693.8 L1603.0,692.6 L1604.0,693.4 L1605.0,692.9 L1606.0,692.4 L1607.0,692.1 L1608.0,692.1 L1609.0,693.0 L1610.0,692.2 L1611.0,693.2 L1612.0,692.0 L1613.0,691.4 L1614.0,691.2 L1615.0,692.7 L1616.0,692.2 L1617.0,692.4 L1618.0,692.3 L1619.0,692.6 L1620.0,692.1 L1621.0,691.9 L1622.0,691.4 L1623.0,691.7 L1624.0,691.9 L1625.0,692.4 L1626.0,692.3 L1627.0,692.5 L1628.0,692.7 L1629.0,692.0 L1630.0,690.9 L1631.0,691.7 L1632.0,691.6 L1633.0,692.0 L1634.0,690.5 L1635.0,692.1 L1636.0,690.3 L1637.0,690.1 L1638.0,691.2 L1639.0,690.2 L1640.0,690.8 L1641.0,691.4 L1642.0,689.8 L1643.0,691.2 L1644.0,690.7 L1645.0,691.2 L1646.0,690.8 L1647.0,691.3 L1648.0,691.8 L1649.0,690.7 L1650.0,690.4 L1651.0,690.7 L1652.0,690.8 L1653.0,691.2 L1654.0,689.1 L1655.0,690.0 L1656.0,690.8 L1657.0,689.4 L1658.0,690.1 L1659.0,689.2 L1660.0,690.0 L1661.0,689.5 L1662.0,691.0 L1663.0,689.1 L1664.0,690.0 L1665.0,690.8 L1666.0,689.9 L1667.0,689.3 L1668.0,689.9 L1669.0,689.1 L1670.0,689.1 L1671.0,689.4 L1672.0,690.3 L1673.0,689.1 L1674.0,689.6 L1675.0,689.4 L1676.0,688.1 L1677.0,689.0 L1678.0,688.1 L1679.0,688.4 L1680.0,689.4 L1681.0,687.7 L1682.0,688.9 L1683.0,689.2 L1684.0,689.2 L1685.0,687.4 L1686.0,688.8 L1687.0,687.3 L1688.0,688.3 L1689.0,688.4 L1690.0,688.9 L1691.0,687.6 L1692.0,688.4 L1693.0,687.5 L1694.0,686.7 L1695.0,686.6 L1696.0,688.1 L1697.0,687.1 L1698.0,688.2 L1699.0,687.9 L1700.0,686.5 L1701.0,686.9 L1702.0,685.7 L1703.0,687.1 L1704.0,686.8 L1705.0,687.7 L1706.0,687.7 L1707.0,687.6 L1708.0,685.8 L1709.0,686.9 L1710.0,686.9 L1711.0,686.3 L1712.0,685.2 L1713.0,685.7 L1714.0,686.8 L1715.0,685.6 L1716.0,685.0 L1717.0,686.2 L1718.0,686.2 L1719.0,686.8 L1720.0,686.2 L1721.0,685.9 L1722.0,685.6 L1723.0,685.8 L1724.0,685.1 L1725.0,686.5 L1726.0,685.7 L1727.0,685.4 L1728.0,684.9 L1729.0,684.4 L1730.0,686.1 L1731.0,686.0 L1732.0,684.2 L1733.0,685.7 L1734.0,685.8 L1735.0,684.2 L1736.0,686.1 L1737.0,684.5 L1738.0,684.9 L1739.0,686.3 L1740.0,685.1 L1741.0,686.1 L1742.0,686.3 L1743.0,686.5 L1744.0,685.5 L1745.0,684.8 L1746.0,685.9 L1747.0,685.6 L1748.0,684.6 L1749.0,686.3 L1750.0,686.3 L1751.0,686.1 L1752.0,685.0"/>
<path stroke="#D95319" d="M265.0,691.0 L267.0,690.6 L268.5,689.3 L270.0,691.0 L400.0,691.0 L600.0,691.0 L757.0,691.3 L760.2,691.5 L760.8,640.0 L761.3,500.0 L761.7,371.0 L762.3,371.0 L763.2,384.0 L764.5,385.0 L900.0,385.0 L1100.0,385.0 L1254.5,385.0 L1256.0,386.0 L1256.8,450.0 L1257.8,560.0 L1258.8,703.0 L1259.6,703.0 L1260.2,691.0 L1262.0,690.8 L1400.0,690.7 L1600.0,690.6 L1752.0,690.6"/>
</g>
<g font-size="60" fill="#0072BD" stroke="#0072BD" stroke-width="0.7" text-anchor="end">
<text transform="translate(246,95.0) scale(0.98,1.03)">0.2</text>
<text transform="translate(246,249.0) scale(0.98,1.03)">0.15</text>
<text transform="translate(246,403.0) scale(0.98,1.03)">0.1</text>
<text transform="translate(246,556.0) scale(0.98,1.03)">0.05</text>
<text transform="translate(246,710.0) scale(0.98,1.03)">0</text>
<text text-anchor="start" transform="translate(113.5,864.0) scale(1,1.03)">–</text>
<text transform="translate(246,864.0) scale(0.98,1.03)">0.05</text>
<text text-anchor="start" transform="translate(143.5,1017.0) scale(1,1.03)">–</text>
<text transform="translate(246,1017.0) scale(0.98,1.03)">0.1</text>
<text text-anchor="start" transform="translate(113.5,1171.0) scale(1,1.03)">–</text>
<text transform="translate(246,1171.0) scale(0.98,1.03)">0.15</text>
<text text-anchor="start" transform="translate(143.5,1325.0) scale(1,1.03)">–</text>
<text transform="translate(246,1325.0) scale(0.98,1.03)">0.2</text>
</g>
<g font-size="60" fill="#D95319" stroke="#D95319" stroke-width="0.7" text-anchor="start">
<text transform="translate(1770,95.0) scale(1,1.03)">30</text>
<text transform="translate(1770,300.0) scale(1,1.03)">20</text>
<text transform="translate(1770,505.0) scale(1,1.03)">10</text>
<text transform="translate(1770,710.0) scale(1,1.03)">0</text>
<text transform="translate(1770,915.0) scale(1,1.03)">–10</text>
<text transform="translate(1770,1120.0) scale(1,1.03)">–20</text>
<text transform="translate(1770,1325.0) scale(1,1.03)">–30</text>
</g>
<g font-size="60" fill="#262626" stroke="#262626" stroke-width="0.7" text-anchor="middle">
<text transform="translate(267.0,1377.2) scale(1,1.02)">0</text>
<text transform="translate(514.0,1377.2) scale(1,1.02)">5</text>
<text transform="translate(762.0,1377.2) scale(1,1.02)">10</text>
<text transform="translate(1009.0,1377.2) scale(1,1.02)">15</text>
<text transform="translate(1257.0,1377.2) scale(1,1.02)">20</text>
<text transform="translate(1504.0,1377.2) scale(1,1.02)">25</text>
<text transform="translate(1752.0,1377.2) scale(1,1.02)">30</text>
</g>
<text transform="translate(1008.2,1454.2) scale(1,1.04)" font-size="66" fill="#262626" stroke="#262626" stroke-width="0.7" text-anchor="middle">Time [s]</text>
<text transform="translate(91.3,690.5) rotate(-90) scale(0.9925,1.045)" font-size="66" fill="#0072BD" stroke="#0072BD" stroke-width="0.7" text-anchor="middle">Normalized Force [mN/mg]</text>
<text transform="translate(1931,690.3) rotate(-90) scale(0.991,1.035)" font-size="66" fill="#D95319" stroke="#D95319" stroke-width="0.7" text-anchor="middle">Electric Field [MV/m]</text>
<rect x="287" y="864" width="1057" height="259" fill="#ffffff" stroke="#0d0d0d" stroke-width="2"/>
<line x1="296" y1="899.6" x2="396" y2="899.6" stroke="#ff0000" stroke-width="8"/>
<text transform="translate(403,918.4) scale(1,0.985)" font-size="54" fill="#000000" stroke="#000000" stroke-width="0.7" textLength="930">P(VDF-TrFE-CTFE) film normalized force</text>
<line x1="296" y1="962" x2="396" y2="962" stroke="#00ff00" stroke-width="8"/>
<text transform="translate(403,981.4) scale(1,0.985)" font-size="54" fill="#000000" stroke="#000000" stroke-width="0.7" textLength="909">P(VDF-TrFE-CTFE) NF normalized force</text>
<line x1="296" y1="1025" x2="396" y2="1025" stroke="#0000ff" stroke-width="8"/>
<text transform="translate(403,1044) scale(1,0.985)" font-size="54" fill="#000000" stroke="#000000" stroke-width="0.7" textLength="577">PFA film normalized force</text>
<line x1="296" y1="1087.3" x2="396" y2="1087.3" stroke="#D95319" stroke-width="8"/>
<text transform="translate(403,1106.4) scale(1,0.985)" font-size="54" fill="#000000" stroke="#000000" stroke-width="0.7" textLength="278">Electric field</text>
</svg>
</body>
</html>
